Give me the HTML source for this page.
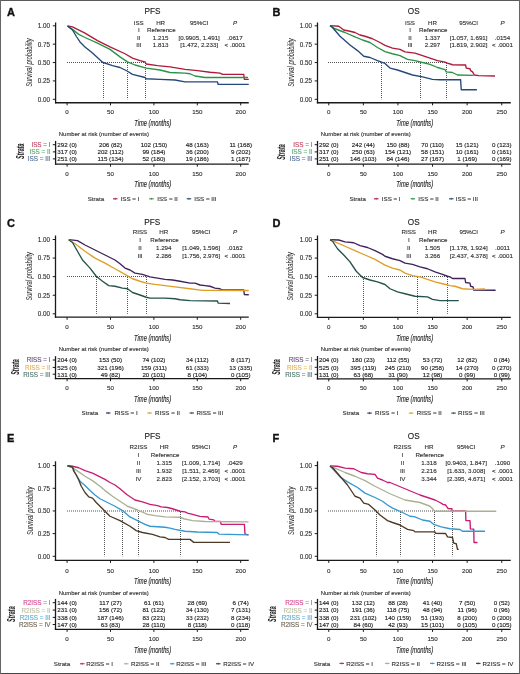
<!DOCTYPE html>
<html><head><meta charset="utf-8"><style>
html,body{margin:0;padding:0;background:#fff;}
body{width:520px;height:674px;overflow:hidden;position:relative;}
svg{position:absolute;left:0;top:0;font-family:"Liberation Sans", sans-serif;will-change:transform;}
</style></head><body>
<svg width="520" height="674" viewBox="0 0 520 674">
<rect x="0" y="0" width="520" height="674" fill="#fff"/>
<text x="7.00" y="15.70" font-size="11" font-weight="bold" fill="#111" stroke="#111" stroke-width="0.35">A</text>
<text x="152.40" y="13.72" font-size="8.2" text-anchor="middle" fill="#222" stroke="#222" stroke-width="0.14" font-weight="normal" font-style="normal" >PFS</text>
<text x="138.75" y="24.56" font-size="6.2" text-anchor="middle" fill="#333" stroke="#333" stroke-width="0.14" font-weight="normal" font-style="normal" >ISS</text>
<text x="160.60" y="24.56" font-size="6.2" text-anchor="middle" fill="#333" stroke="#333" stroke-width="0.14" font-weight="normal" font-style="normal" >HR</text>
<text x="199.20" y="24.56" font-size="6.2" text-anchor="middle" fill="#333" stroke="#333" stroke-width="0.14" font-weight="normal" font-style="normal" >95%CI</text>
<text x="235.00" y="24.56" font-size="6.2" text-anchor="middle" fill="#333" stroke="#333" stroke-width="0.14" font-weight="normal" font-style="italic" >P</text>
<text x="138.75" y="32.16" font-size="6.2" text-anchor="middle" fill="#333" stroke="#333" stroke-width="0.14" font-weight="normal" font-style="normal" >I</text>
<text x="147.10" y="32.16" font-size="6.2" text-anchor="start" fill="#333" stroke="#333" stroke-width="0.14" font-weight="normal" font-style="normal" >Reference</text>
<text x="138.75" y="39.76" font-size="6.2" text-anchor="middle" fill="#333" stroke="#333" stroke-width="0.14" font-weight="normal" font-style="normal" >II</text>
<text x="160.60" y="39.76" font-size="6.2" text-anchor="middle" fill="#333" stroke="#333" stroke-width="0.14" font-weight="normal" font-style="normal" >1.215</text>
<text x="199.20" y="39.76" font-size="6.2" text-anchor="middle" fill="#333" stroke="#333" stroke-width="0.14" font-weight="normal" font-style="normal" >[0.9905, 1.491]</text>
<text x="235.00" y="39.76" font-size="6.2" text-anchor="middle" fill="#333" stroke="#333" stroke-width="0.14" font-weight="normal" font-style="normal" >.0617</text>
<text x="138.75" y="47.36" font-size="6.2" text-anchor="middle" fill="#333" stroke="#333" stroke-width="0.14" font-weight="normal" font-style="normal" >III</text>
<text x="160.60" y="47.36" font-size="6.2" text-anchor="middle" fill="#333" stroke="#333" stroke-width="0.14" font-weight="normal" font-style="normal" >1.813</text>
<text x="199.20" y="47.36" font-size="6.2" text-anchor="middle" fill="#333" stroke="#333" stroke-width="0.14" font-weight="normal" font-style="normal" >[1.472, 2.233]</text>
<text x="235.00" y="47.36" font-size="6.2" text-anchor="middle" fill="#333" stroke="#333" stroke-width="0.14" font-weight="normal" font-style="normal" >&lt; .0001</text>
<line x1="55.60" y1="22.50" x2="55.60" y2="103.35" stroke="#1a1a1a" stroke-width="1.3" />
<line x1="54.95" y1="102.75" x2="248.75" y2="102.75" stroke="#1a1a1a" stroke-width="1.3" />
<line x1="52.80" y1="99.30" x2="55.60" y2="99.30" stroke="#1a1a1a" stroke-width="1.0" />
<text x="50.00" y="101.69" font-size="6.3" text-anchor="end" fill="#333" stroke="#333" stroke-width="0.14" font-weight="normal" font-style="normal" >0.00</text>
<line x1="52.80" y1="80.92" x2="55.60" y2="80.92" stroke="#1a1a1a" stroke-width="1.0" />
<text x="50.00" y="83.32" font-size="6.3" text-anchor="end" fill="#333" stroke="#333" stroke-width="0.14" font-weight="normal" font-style="normal" >0.25</text>
<line x1="52.80" y1="62.55" x2="55.60" y2="62.55" stroke="#1a1a1a" stroke-width="1.0" />
<text x="50.00" y="64.94" font-size="6.3" text-anchor="end" fill="#333" stroke="#333" stroke-width="0.14" font-weight="normal" font-style="normal" >0.50</text>
<line x1="52.80" y1="44.17" x2="55.60" y2="44.17" stroke="#1a1a1a" stroke-width="1.0" />
<text x="50.00" y="46.57" font-size="6.3" text-anchor="end" fill="#333" stroke="#333" stroke-width="0.14" font-weight="normal" font-style="normal" >0.75</text>
<line x1="52.80" y1="25.80" x2="55.60" y2="25.80" stroke="#1a1a1a" stroke-width="1.0" />
<text x="50.00" y="28.19" font-size="6.3" text-anchor="end" fill="#333" stroke="#333" stroke-width="0.14" font-weight="normal" font-style="normal" >1.00</text>
<line x1="67.10" y1="102.75" x2="67.10" y2="105.35" stroke="#1a1a1a" stroke-width="1.0" />
<text x="67.10" y="114.46" font-size="6.2" text-anchor="middle" fill="#333" stroke="#333" stroke-width="0.14" font-weight="normal" font-style="normal" >0</text>
<line x1="110.50" y1="102.75" x2="110.50" y2="105.35" stroke="#1a1a1a" stroke-width="1.0" />
<text x="110.50" y="114.46" font-size="6.2" text-anchor="middle" fill="#333" stroke="#333" stroke-width="0.14" font-weight="normal" font-style="normal" >50</text>
<line x1="153.90" y1="102.75" x2="153.90" y2="105.35" stroke="#1a1a1a" stroke-width="1.0" />
<text x="153.90" y="114.46" font-size="6.2" text-anchor="middle" fill="#333" stroke="#333" stroke-width="0.14" font-weight="normal" font-style="normal" >100</text>
<line x1="197.30" y1="102.75" x2="197.30" y2="105.35" stroke="#1a1a1a" stroke-width="1.0" />
<text x="197.30" y="114.46" font-size="6.2" text-anchor="middle" fill="#333" stroke="#333" stroke-width="0.14" font-weight="normal" font-style="normal" >150</text>
<line x1="240.70" y1="102.75" x2="240.70" y2="105.35" stroke="#1a1a1a" stroke-width="1.0" />
<text x="240.70" y="114.46" font-size="6.2" text-anchor="middle" fill="#333" stroke="#333" stroke-width="0.14" font-weight="normal" font-style="normal" >200</text>
<text x="28.8" y="62.5" transform="rotate(-90 28.8 62.5)" font-size="8.6" font-style="italic" text-anchor="middle" fill="#222" textLength="48.5" lengthAdjust="spacingAndGlyphs" dominant-baseline="central">Survival probability</text>
<text x="152.68" y="125.95" font-size="8.4" text-anchor="middle" fill="#222" stroke="#222" stroke-width="0.14" font-weight="normal" font-style="italic" textLength="37" lengthAdjust="spacingAndGlyphs">Time (months)</text>
<line x1="67.00" y1="62.50" x2="145.60" y2="62.50" stroke="#4a4a4a" stroke-width="0.95" stroke-dasharray="1,1"/>
<line x1="103.50" y1="63.00" x2="103.50" y2="99.30" stroke="#4a4a4a" stroke-width="0.95" stroke-dasharray="1,1"/>
<line x1="127.50" y1="63.00" x2="127.50" y2="99.30" stroke="#4a4a4a" stroke-width="0.95" stroke-dasharray="1,1"/>
<line x1="145.50" y1="63.00" x2="145.50" y2="99.30" stroke="#4a4a4a" stroke-width="0.95" stroke-dasharray="1,1"/>
<polyline points="67.50,26.00 72.50,26.90 85.00,33.10 97.50,40.60 110.00,46.90 125.00,53.75 132.50,58.10 140.00,60.60 145.00,61.90 146.25,64.00 157.50,65.60 170.00,66.90 185.00,69.40 197.50,70.60 210.00,72.25 220.00,73.10 222.50,74.40 243.75,74.40 244.40,79.40 248.75,79.40" fill="none" stroke="#ae1a3c" stroke-width="1.35" stroke-linejoin="round" />
<polyline points="67.50,26.00 72.50,29.40 78.75,34.40 85.00,37.50 97.50,43.10 110.00,49.40 120.00,56.90 127.50,61.90 135.00,65.00 146.25,68.10 160.00,70.00 170.00,72.50 185.00,73.10 190.00,73.75 195.00,76.00 205.00,77.50 248.00,77.50" fill="none" stroke="#2a9446" stroke-width="1.35" stroke-linejoin="round" />
<polyline points="67.50,26.00 72.50,30.00 76.25,36.25 80.00,41.90 85.00,46.90 92.50,53.10 102.50,62.25 112.50,65.60 120.00,67.50 127.50,71.25 132.50,74.40 145.00,77.50 146.25,78.75 160.00,79.40 175.00,80.00 185.00,81.90 217.50,81.90 218.10,84.40 248.75,84.40" fill="none" stroke="#264878" stroke-width="1.35" stroke-linejoin="round" />
<text x="58.80" y="136.36" font-size="5.95" text-anchor="start" fill="#333" stroke="#333" stroke-width="0.14" font-weight="normal" font-style="normal" >Number at risk (number of events)</text>
<line x1="55.60" y1="140.90" x2="55.60" y2="164.70" stroke="#1a1a1a" stroke-width="1.3" />
<line x1="54.95" y1="164.10" x2="248.75" y2="164.10" stroke="#1a1a1a" stroke-width="1.3" />
<line x1="52.80" y1="144.70" x2="55.60" y2="144.70" stroke="#1a1a1a" stroke-width="1.0" />
<text x="50.60" y="147.11" font-size="6.35" text-anchor="end" fill="#bf4c66" stroke="#bf4c66" stroke-width="0.14" font-weight="normal" font-style="normal" >ISS = I</text>
<text x="67.10" y="147.06" font-size="6.2" text-anchor="middle" fill="#222" stroke="#222" stroke-width="0.14" font-weight="normal" font-style="normal" >292 (0)</text>
<text x="110.50" y="147.06" font-size="6.2" text-anchor="middle" fill="#222" stroke="#222" stroke-width="0.14" font-weight="normal" font-style="normal" >206 (82)</text>
<text x="153.90" y="147.06" font-size="6.2" text-anchor="middle" fill="#222" stroke="#222" stroke-width="0.14" font-weight="normal" font-style="normal" >102 (150)</text>
<text x="197.30" y="147.06" font-size="6.2" text-anchor="middle" fill="#222" stroke="#222" stroke-width="0.14" font-weight="normal" font-style="normal" >48 (163)</text>
<text x="240.70" y="147.06" font-size="6.2" text-anchor="middle" fill="#222" stroke="#222" stroke-width="0.14" font-weight="normal" font-style="normal" >11 (168)</text>
<line x1="52.80" y1="151.90" x2="55.60" y2="151.90" stroke="#1a1a1a" stroke-width="1.0" />
<text x="50.60" y="154.31" font-size="6.35" text-anchor="end" fill="#58ab6e" stroke="#58ab6e" stroke-width="0.14" font-weight="normal" font-style="normal" >ISS = II</text>
<text x="67.10" y="154.26" font-size="6.2" text-anchor="middle" fill="#222" stroke="#222" stroke-width="0.14" font-weight="normal" font-style="normal" >317 (0)</text>
<text x="110.50" y="154.26" font-size="6.2" text-anchor="middle" fill="#222" stroke="#222" stroke-width="0.14" font-weight="normal" font-style="normal" >202 (112)</text>
<text x="153.90" y="154.26" font-size="6.2" text-anchor="middle" fill="#222" stroke="#222" stroke-width="0.14" font-weight="normal" font-style="normal" >99 (184)</text>
<text x="197.30" y="154.26" font-size="6.2" text-anchor="middle" fill="#222" stroke="#222" stroke-width="0.14" font-weight="normal" font-style="normal" >36 (200)</text>
<text x="240.70" y="154.26" font-size="6.2" text-anchor="middle" fill="#222" stroke="#222" stroke-width="0.14" font-weight="normal" font-style="normal" >9 (202)</text>
<line x1="52.80" y1="158.90" x2="55.60" y2="158.90" stroke="#1a1a1a" stroke-width="1.0" />
<text x="50.60" y="161.31" font-size="6.35" text-anchor="end" fill="#557095" stroke="#557095" stroke-width="0.14" font-weight="normal" font-style="normal" >ISS = III</text>
<text x="67.10" y="161.26" font-size="6.2" text-anchor="middle" fill="#222" stroke="#222" stroke-width="0.14" font-weight="normal" font-style="normal" >251 (0)</text>
<text x="110.50" y="161.26" font-size="6.2" text-anchor="middle" fill="#222" stroke="#222" stroke-width="0.14" font-weight="normal" font-style="normal" >115 (134)</text>
<text x="153.90" y="161.26" font-size="6.2" text-anchor="middle" fill="#222" stroke="#222" stroke-width="0.14" font-weight="normal" font-style="normal" >52 (180)</text>
<text x="197.30" y="161.26" font-size="6.2" text-anchor="middle" fill="#222" stroke="#222" stroke-width="0.14" font-weight="normal" font-style="normal" >19 (186)</text>
<text x="240.70" y="161.26" font-size="6.2" text-anchor="middle" fill="#222" stroke="#222" stroke-width="0.14" font-weight="normal" font-style="normal" >1 (187)</text>
<line x1="67.10" y1="164.10" x2="67.10" y2="166.70" stroke="#1a1a1a" stroke-width="1.0" />
<text x="67.10" y="175.61" font-size="6.2" text-anchor="middle" fill="#333" stroke="#333" stroke-width="0.14" font-weight="normal" font-style="normal" >0</text>
<line x1="110.50" y1="164.10" x2="110.50" y2="166.70" stroke="#1a1a1a" stroke-width="1.0" />
<text x="110.50" y="175.61" font-size="6.2" text-anchor="middle" fill="#333" stroke="#333" stroke-width="0.14" font-weight="normal" font-style="normal" >50</text>
<line x1="153.90" y1="164.10" x2="153.90" y2="166.70" stroke="#1a1a1a" stroke-width="1.0" />
<text x="153.90" y="175.61" font-size="6.2" text-anchor="middle" fill="#333" stroke="#333" stroke-width="0.14" font-weight="normal" font-style="normal" >100</text>
<line x1="197.30" y1="164.10" x2="197.30" y2="166.70" stroke="#1a1a1a" stroke-width="1.0" />
<text x="197.30" y="175.61" font-size="6.2" text-anchor="middle" fill="#333" stroke="#333" stroke-width="0.14" font-weight="normal" font-style="normal" >150</text>
<line x1="240.70" y1="164.10" x2="240.70" y2="166.70" stroke="#1a1a1a" stroke-width="1.0" />
<text x="240.70" y="175.61" font-size="6.2" text-anchor="middle" fill="#333" stroke="#333" stroke-width="0.14" font-weight="normal" font-style="normal" >200</text>
<text x="152.68" y="186.70" font-size="8.4" text-anchor="middle" fill="#222" stroke="#222" stroke-width="0.14" font-weight="normal" font-style="italic" textLength="37" lengthAdjust="spacingAndGlyphs">Time (months)</text>
<text x="20.4" y="151.2" transform="rotate(-90 20.4 151.2)" font-size="10.2" font-style="italic" font-weight="bold" text-anchor="middle" fill="#222" textLength="15.6" lengthAdjust="spacingAndGlyphs" dominant-baseline="central">Strata</text>
<text x="87.70" y="201.16" font-size="6.2" text-anchor="start" fill="#333" stroke="#333" stroke-width="0.14" font-weight="normal" font-style="normal" >Strata</text>
<line x1="113.00" y1="198.80" x2="117.50" y2="198.80" stroke="#ae1a3c" stroke-width="1.1" />
<line x1="115.25" y1="197.70" x2="115.25" y2="199.90" stroke="#ae1a3c" stroke-width="0.6" />
<text x="120.60" y="201.16" font-size="6.2" text-anchor="start" fill="#333" stroke="#333" stroke-width="0.14" font-weight="normal" font-style="normal" >ISS = I</text>
<line x1="149.20" y1="198.80" x2="153.70" y2="198.80" stroke="#2a9446" stroke-width="1.1" />
<line x1="151.45" y1="197.70" x2="151.45" y2="199.90" stroke="#2a9446" stroke-width="0.6" />
<text x="157.20" y="201.16" font-size="6.2" text-anchor="start" fill="#333" stroke="#333" stroke-width="0.14" font-weight="normal" font-style="normal" >ISS = II</text>
<line x1="186.70" y1="198.80" x2="191.20" y2="198.80" stroke="#264878" stroke-width="1.1" />
<line x1="188.95" y1="197.70" x2="188.95" y2="199.90" stroke="#264878" stroke-width="0.6" />
<text x="194.20" y="201.16" font-size="6.2" text-anchor="start" fill="#333" stroke="#333" stroke-width="0.14" font-weight="normal" font-style="normal" >ISS = III</text>
<text x="272.60" y="15.70" font-size="11" font-weight="bold" fill="#111" stroke="#111" stroke-width="0.35">B</text>
<text x="413.75" y="13.72" font-size="8.2" text-anchor="middle" fill="#222" stroke="#222" stroke-width="0.14" font-weight="normal" font-style="normal" >OS</text>
<text x="410.00" y="24.56" font-size="6.2" text-anchor="middle" fill="#333" stroke="#333" stroke-width="0.14" font-weight="normal" font-style="normal" >ISS</text>
<text x="432.50" y="24.56" font-size="6.2" text-anchor="middle" fill="#333" stroke="#333" stroke-width="0.14" font-weight="normal" font-style="normal" >HR</text>
<text x="468.60" y="24.56" font-size="6.2" text-anchor="middle" fill="#333" stroke="#333" stroke-width="0.14" font-weight="normal" font-style="normal" >95%CI</text>
<text x="502.50" y="24.56" font-size="6.2" text-anchor="middle" fill="#333" stroke="#333" stroke-width="0.14" font-weight="normal" font-style="italic" >P</text>
<text x="410.00" y="32.16" font-size="6.2" text-anchor="middle" fill="#333" stroke="#333" stroke-width="0.14" font-weight="normal" font-style="normal" >I</text>
<text x="419.00" y="32.16" font-size="6.2" text-anchor="start" fill="#333" stroke="#333" stroke-width="0.14" font-weight="normal" font-style="normal" >Reference</text>
<text x="410.00" y="39.76" font-size="6.2" text-anchor="middle" fill="#333" stroke="#333" stroke-width="0.14" font-weight="normal" font-style="normal" >II</text>
<text x="432.50" y="39.76" font-size="6.2" text-anchor="middle" fill="#333" stroke="#333" stroke-width="0.14" font-weight="normal" font-style="normal" >1.337</text>
<text x="468.60" y="39.76" font-size="6.2" text-anchor="middle" fill="#333" stroke="#333" stroke-width="0.14" font-weight="normal" font-style="normal" >[1.057, 1.691]</text>
<text x="502.50" y="39.76" font-size="6.2" text-anchor="middle" fill="#333" stroke="#333" stroke-width="0.14" font-weight="normal" font-style="normal" >.0154</text>
<text x="410.00" y="47.36" font-size="6.2" text-anchor="middle" fill="#333" stroke="#333" stroke-width="0.14" font-weight="normal" font-style="normal" >III</text>
<text x="432.50" y="47.36" font-size="6.2" text-anchor="middle" fill="#333" stroke="#333" stroke-width="0.14" font-weight="normal" font-style="normal" >2.297</text>
<text x="468.60" y="47.36" font-size="6.2" text-anchor="middle" fill="#333" stroke="#333" stroke-width="0.14" font-weight="normal" font-style="normal" >[1.819, 2.902]</text>
<text x="502.50" y="47.36" font-size="6.2" text-anchor="middle" fill="#333" stroke="#333" stroke-width="0.14" font-weight="normal" font-style="normal" >&lt; .0001</text>
<line x1="317.50" y1="22.50" x2="317.50" y2="103.35" stroke="#1a1a1a" stroke-width="1.3" />
<line x1="316.85" y1="102.75" x2="510.80" y2="102.75" stroke="#1a1a1a" stroke-width="1.3" />
<line x1="314.70" y1="99.30" x2="317.50" y2="99.30" stroke="#1a1a1a" stroke-width="1.0" />
<text x="311.90" y="101.69" font-size="6.3" text-anchor="end" fill="#333" stroke="#333" stroke-width="0.14" font-weight="normal" font-style="normal" >0.00</text>
<line x1="314.70" y1="80.92" x2="317.50" y2="80.92" stroke="#1a1a1a" stroke-width="1.0" />
<text x="311.90" y="83.32" font-size="6.3" text-anchor="end" fill="#333" stroke="#333" stroke-width="0.14" font-weight="normal" font-style="normal" >0.25</text>
<line x1="314.70" y1="62.55" x2="317.50" y2="62.55" stroke="#1a1a1a" stroke-width="1.0" />
<text x="311.90" y="64.94" font-size="6.3" text-anchor="end" fill="#333" stroke="#333" stroke-width="0.14" font-weight="normal" font-style="normal" >0.50</text>
<line x1="314.70" y1="44.17" x2="317.50" y2="44.17" stroke="#1a1a1a" stroke-width="1.0" />
<text x="311.90" y="46.57" font-size="6.3" text-anchor="end" fill="#333" stroke="#333" stroke-width="0.14" font-weight="normal" font-style="normal" >0.75</text>
<line x1="314.70" y1="25.80" x2="317.50" y2="25.80" stroke="#1a1a1a" stroke-width="1.0" />
<text x="311.90" y="28.19" font-size="6.3" text-anchor="end" fill="#333" stroke="#333" stroke-width="0.14" font-weight="normal" font-style="normal" >1.00</text>
<line x1="328.75" y1="102.75" x2="328.75" y2="105.35" stroke="#1a1a1a" stroke-width="1.0" />
<text x="328.75" y="114.46" font-size="6.2" text-anchor="middle" fill="#333" stroke="#333" stroke-width="0.14" font-weight="normal" font-style="normal" >0</text>
<line x1="363.35" y1="102.75" x2="363.35" y2="105.35" stroke="#1a1a1a" stroke-width="1.0" />
<text x="363.35" y="114.46" font-size="6.2" text-anchor="middle" fill="#333" stroke="#333" stroke-width="0.14" font-weight="normal" font-style="normal" >50</text>
<line x1="397.95" y1="102.75" x2="397.95" y2="105.35" stroke="#1a1a1a" stroke-width="1.0" />
<text x="397.95" y="114.46" font-size="6.2" text-anchor="middle" fill="#333" stroke="#333" stroke-width="0.14" font-weight="normal" font-style="normal" >100</text>
<line x1="432.55" y1="102.75" x2="432.55" y2="105.35" stroke="#1a1a1a" stroke-width="1.0" />
<text x="432.55" y="114.46" font-size="6.2" text-anchor="middle" fill="#333" stroke="#333" stroke-width="0.14" font-weight="normal" font-style="normal" >150</text>
<line x1="467.15" y1="102.75" x2="467.15" y2="105.35" stroke="#1a1a1a" stroke-width="1.0" />
<text x="467.15" y="114.46" font-size="6.2" text-anchor="middle" fill="#333" stroke="#333" stroke-width="0.14" font-weight="normal" font-style="normal" >200</text>
<line x1="501.75" y1="102.75" x2="501.75" y2="105.35" stroke="#1a1a1a" stroke-width="1.0" />
<text x="501.75" y="114.46" font-size="6.2" text-anchor="middle" fill="#333" stroke="#333" stroke-width="0.14" font-weight="normal" font-style="normal" >250</text>
<text x="290.5" y="62.5" transform="rotate(-90 290.5 62.5)" font-size="8.6" font-style="italic" text-anchor="middle" fill="#222" textLength="48.5" lengthAdjust="spacingAndGlyphs" dominant-baseline="central">Survival probability</text>
<text x="414.65" y="125.95" font-size="8.4" text-anchor="middle" fill="#222" stroke="#222" stroke-width="0.14" font-weight="normal" font-style="italic" textLength="37" lengthAdjust="spacingAndGlyphs">Time (months)</text>
<line x1="328.00" y1="62.50" x2="446.40" y2="62.50" stroke="#4a4a4a" stroke-width="0.95" stroke-dasharray="1,1"/>
<line x1="381.50" y1="63.00" x2="381.50" y2="99.30" stroke="#4a4a4a" stroke-width="0.95" stroke-dasharray="1,1"/>
<line x1="420.50" y1="63.00" x2="420.50" y2="99.30" stroke="#4a4a4a" stroke-width="0.95" stroke-dasharray="1,1"/>
<line x1="446.50" y1="63.00" x2="446.50" y2="99.30" stroke="#4a4a4a" stroke-width="0.95" stroke-dasharray="1,1"/>
<polyline points="330.00,25.60 338.75,26.25 343.75,30.00 350.00,31.25 355.00,32.50 360.00,35.00 365.00,36.25 372.50,38.75 380.00,42.50 385.00,45.30 392.50,48.10 400.00,49.40 405.00,51.90 415.00,53.10 422.50,55.60 430.00,58.10 437.50,60.60 445.00,62.20 447.50,63.10 452.50,64.75 465.60,65.00 466.25,68.10 470.00,68.75 470.60,70.60 472.50,71.90 474.40,75.00 478.75,75.60 495.00,76.00" fill="none" stroke="#ae1a3c" stroke-width="1.35" stroke-linejoin="round" />
<polyline points="330.00,25.60 335.00,28.75 345.00,32.50 355.00,36.90 362.50,40.00 370.00,42.50 377.50,47.50 385.00,51.60 392.50,53.75 400.00,55.60 407.50,59.40 415.00,60.60 422.50,62.50 430.00,64.40 437.50,67.50 445.00,69.70 446.25,71.90 452.50,72.50 457.50,75.00 473.75,75.40" fill="none" stroke="#2a9446" stroke-width="1.35" stroke-linejoin="round" />
<polyline points="330.00,25.60 332.50,27.50 340.00,36.25 350.00,45.00 357.50,50.60 363.75,56.25 370.00,57.50 377.50,60.60 385.00,63.40 390.00,68.10 397.50,70.00 405.00,72.50 412.50,75.00 422.50,76.90 432.50,79.40 440.00,79.75 460.60,79.75 461.25,89.75 476.90,89.75" fill="none" stroke="#264878" stroke-width="1.35" stroke-linejoin="round" />
<text x="320.70" y="136.36" font-size="5.95" text-anchor="start" fill="#333" stroke="#333" stroke-width="0.14" font-weight="normal" font-style="normal" >Number at risk (number of events)</text>
<line x1="317.50" y1="140.90" x2="317.50" y2="164.70" stroke="#1a1a1a" stroke-width="1.3" />
<line x1="316.85" y1="164.10" x2="510.80" y2="164.10" stroke="#1a1a1a" stroke-width="1.3" />
<line x1="314.70" y1="144.70" x2="317.50" y2="144.70" stroke="#1a1a1a" stroke-width="1.0" />
<text x="312.50" y="147.11" font-size="6.35" text-anchor="end" fill="#bf4c66" stroke="#bf4c66" stroke-width="0.14" font-weight="normal" font-style="normal" >ISS = I</text>
<text x="328.75" y="147.06" font-size="6.2" text-anchor="middle" fill="#222" stroke="#222" stroke-width="0.14" font-weight="normal" font-style="normal" >292 (0)</text>
<text x="363.35" y="147.06" font-size="6.2" text-anchor="middle" fill="#222" stroke="#222" stroke-width="0.14" font-weight="normal" font-style="normal" >242 (44)</text>
<text x="397.95" y="147.06" font-size="6.2" text-anchor="middle" fill="#222" stroke="#222" stroke-width="0.14" font-weight="normal" font-style="normal" >150 (88)</text>
<text x="432.55" y="147.06" font-size="6.2" text-anchor="middle" fill="#222" stroke="#222" stroke-width="0.14" font-weight="normal" font-style="normal" >70 (110)</text>
<text x="467.15" y="147.06" font-size="6.2" text-anchor="middle" fill="#222" stroke="#222" stroke-width="0.14" font-weight="normal" font-style="normal" >15 (121)</text>
<text x="501.75" y="147.06" font-size="6.2" text-anchor="middle" fill="#222" stroke="#222" stroke-width="0.14" font-weight="normal" font-style="normal" >0 (123)</text>
<line x1="314.70" y1="151.90" x2="317.50" y2="151.90" stroke="#1a1a1a" stroke-width="1.0" />
<text x="312.50" y="154.31" font-size="6.35" text-anchor="end" fill="#58ab6e" stroke="#58ab6e" stroke-width="0.14" font-weight="normal" font-style="normal" >ISS = II</text>
<text x="328.75" y="154.26" font-size="6.2" text-anchor="middle" fill="#222" stroke="#222" stroke-width="0.14" font-weight="normal" font-style="normal" >317 (0)</text>
<text x="363.35" y="154.26" font-size="6.2" text-anchor="middle" fill="#222" stroke="#222" stroke-width="0.14" font-weight="normal" font-style="normal" >250 (63)</text>
<text x="397.95" y="154.26" font-size="6.2" text-anchor="middle" fill="#222" stroke="#222" stroke-width="0.14" font-weight="normal" font-style="normal" >154 (121)</text>
<text x="432.55" y="154.26" font-size="6.2" text-anchor="middle" fill="#222" stroke="#222" stroke-width="0.14" font-weight="normal" font-style="normal" >58 (151)</text>
<text x="467.15" y="154.26" font-size="6.2" text-anchor="middle" fill="#222" stroke="#222" stroke-width="0.14" font-weight="normal" font-style="normal" >10 (161)</text>
<text x="501.75" y="154.26" font-size="6.2" text-anchor="middle" fill="#222" stroke="#222" stroke-width="0.14" font-weight="normal" font-style="normal" >0 (161)</text>
<line x1="314.70" y1="158.90" x2="317.50" y2="158.90" stroke="#1a1a1a" stroke-width="1.0" />
<text x="312.50" y="161.31" font-size="6.35" text-anchor="end" fill="#557095" stroke="#557095" stroke-width="0.14" font-weight="normal" font-style="normal" >ISS = III</text>
<text x="328.75" y="161.26" font-size="6.2" text-anchor="middle" fill="#222" stroke="#222" stroke-width="0.14" font-weight="normal" font-style="normal" >251 (0)</text>
<text x="363.35" y="161.26" font-size="6.2" text-anchor="middle" fill="#222" stroke="#222" stroke-width="0.14" font-weight="normal" font-style="normal" >146 (103)</text>
<text x="397.95" y="161.26" font-size="6.2" text-anchor="middle" fill="#222" stroke="#222" stroke-width="0.14" font-weight="normal" font-style="normal" >84 (146)</text>
<text x="432.55" y="161.26" font-size="6.2" text-anchor="middle" fill="#222" stroke="#222" stroke-width="0.14" font-weight="normal" font-style="normal" >27 (167)</text>
<text x="467.15" y="161.26" font-size="6.2" text-anchor="middle" fill="#222" stroke="#222" stroke-width="0.14" font-weight="normal" font-style="normal" >1 (169)</text>
<text x="501.75" y="161.26" font-size="6.2" text-anchor="middle" fill="#222" stroke="#222" stroke-width="0.14" font-weight="normal" font-style="normal" >0 (169)</text>
<line x1="328.75" y1="164.10" x2="328.75" y2="166.70" stroke="#1a1a1a" stroke-width="1.0" />
<text x="328.75" y="175.61" font-size="6.2" text-anchor="middle" fill="#333" stroke="#333" stroke-width="0.14" font-weight="normal" font-style="normal" >0</text>
<line x1="363.35" y1="164.10" x2="363.35" y2="166.70" stroke="#1a1a1a" stroke-width="1.0" />
<text x="363.35" y="175.61" font-size="6.2" text-anchor="middle" fill="#333" stroke="#333" stroke-width="0.14" font-weight="normal" font-style="normal" >50</text>
<line x1="397.95" y1="164.10" x2="397.95" y2="166.70" stroke="#1a1a1a" stroke-width="1.0" />
<text x="397.95" y="175.61" font-size="6.2" text-anchor="middle" fill="#333" stroke="#333" stroke-width="0.14" font-weight="normal" font-style="normal" >100</text>
<line x1="432.55" y1="164.10" x2="432.55" y2="166.70" stroke="#1a1a1a" stroke-width="1.0" />
<text x="432.55" y="175.61" font-size="6.2" text-anchor="middle" fill="#333" stroke="#333" stroke-width="0.14" font-weight="normal" font-style="normal" >150</text>
<line x1="467.15" y1="164.10" x2="467.15" y2="166.70" stroke="#1a1a1a" stroke-width="1.0" />
<text x="467.15" y="175.61" font-size="6.2" text-anchor="middle" fill="#333" stroke="#333" stroke-width="0.14" font-weight="normal" font-style="normal" >200</text>
<line x1="501.75" y1="164.10" x2="501.75" y2="166.70" stroke="#1a1a1a" stroke-width="1.0" />
<text x="501.75" y="175.61" font-size="6.2" text-anchor="middle" fill="#333" stroke="#333" stroke-width="0.14" font-weight="normal" font-style="normal" >250</text>
<text x="414.65" y="186.70" font-size="8.4" text-anchor="middle" fill="#222" stroke="#222" stroke-width="0.14" font-weight="normal" font-style="italic" textLength="37" lengthAdjust="spacingAndGlyphs">Time (months)</text>
<text x="281.4" y="152.0" transform="rotate(-90 281.4 152.0)" font-size="10.2" font-style="italic" font-weight="bold" text-anchor="middle" fill="#222" textLength="15.6" lengthAdjust="spacingAndGlyphs" dominant-baseline="central">Strata</text>
<text x="349.40" y="201.16" font-size="6.2" text-anchor="start" fill="#333" stroke="#333" stroke-width="0.14" font-weight="normal" font-style="normal" >Strata</text>
<line x1="374.00" y1="198.80" x2="378.50" y2="198.80" stroke="#ae1a3c" stroke-width="1.1" />
<line x1="376.25" y1="197.70" x2="376.25" y2="199.90" stroke="#ae1a3c" stroke-width="0.6" />
<text x="381.80" y="201.16" font-size="6.2" text-anchor="start" fill="#333" stroke="#333" stroke-width="0.14" font-weight="normal" font-style="normal" >ISS = I</text>
<line x1="410.60" y1="198.80" x2="415.10" y2="198.80" stroke="#2a9446" stroke-width="1.1" />
<line x1="412.85" y1="197.70" x2="412.85" y2="199.90" stroke="#2a9446" stroke-width="0.6" />
<text x="418.30" y="201.16" font-size="6.2" text-anchor="start" fill="#333" stroke="#333" stroke-width="0.14" font-weight="normal" font-style="normal" >ISS = II</text>
<line x1="449.00" y1="198.80" x2="453.50" y2="198.80" stroke="#264878" stroke-width="1.1" />
<line x1="451.25" y1="197.70" x2="451.25" y2="199.90" stroke="#264878" stroke-width="0.6" />
<text x="455.80" y="201.16" font-size="6.2" text-anchor="start" fill="#333" stroke="#333" stroke-width="0.14" font-weight="normal" font-style="normal" >ISS = III</text>
<text x="7.00" y="226.70" font-size="11" font-weight="bold" fill="#111" stroke="#111" stroke-width="0.35">C</text>
<text x="152.30" y="225.12" font-size="8.2" text-anchor="middle" fill="#222" stroke="#222" stroke-width="0.14" font-weight="normal" font-style="normal" >PFS</text>
<text x="140.00" y="234.46" font-size="6.2" text-anchor="middle" fill="#333" stroke="#333" stroke-width="0.14" font-weight="normal" font-style="normal" >RISS</text>
<text x="163.75" y="234.46" font-size="6.2" text-anchor="middle" fill="#333" stroke="#333" stroke-width="0.14" font-weight="normal" font-style="normal" >HR</text>
<text x="201.25" y="234.46" font-size="6.2" text-anchor="middle" fill="#333" stroke="#333" stroke-width="0.14" font-weight="normal" font-style="normal" >95%CI</text>
<text x="235.00" y="234.46" font-size="6.2" text-anchor="middle" fill="#333" stroke="#333" stroke-width="0.14" font-weight="normal" font-style="italic" >P</text>
<text x="140.00" y="242.16" font-size="6.2" text-anchor="middle" fill="#333" stroke="#333" stroke-width="0.14" font-weight="normal" font-style="normal" >I</text>
<text x="150.25" y="242.16" font-size="6.2" text-anchor="start" fill="#333" stroke="#333" stroke-width="0.14" font-weight="normal" font-style="normal" >Reference</text>
<text x="140.00" y="249.86" font-size="6.2" text-anchor="middle" fill="#333" stroke="#333" stroke-width="0.14" font-weight="normal" font-style="normal" >II</text>
<text x="163.75" y="249.86" font-size="6.2" text-anchor="middle" fill="#333" stroke="#333" stroke-width="0.14" font-weight="normal" font-style="normal" >1.294</text>
<text x="201.25" y="249.86" font-size="6.2" text-anchor="middle" fill="#333" stroke="#333" stroke-width="0.14" font-weight="normal" font-style="normal" >[1.049, 1.596]</text>
<text x="235.00" y="249.86" font-size="6.2" text-anchor="middle" fill="#333" stroke="#333" stroke-width="0.14" font-weight="normal" font-style="normal" >.0162</text>
<text x="140.00" y="257.56" font-size="6.2" text-anchor="middle" fill="#333" stroke="#333" stroke-width="0.14" font-weight="normal" font-style="normal" >III</text>
<text x="163.75" y="257.56" font-size="6.2" text-anchor="middle" fill="#333" stroke="#333" stroke-width="0.14" font-weight="normal" font-style="normal" >2.286</text>
<text x="201.25" y="257.56" font-size="6.2" text-anchor="middle" fill="#333" stroke="#333" stroke-width="0.14" font-weight="normal" font-style="normal" >[1.756, 2.976]</text>
<text x="235.00" y="257.56" font-size="6.2" text-anchor="middle" fill="#333" stroke="#333" stroke-width="0.14" font-weight="normal" font-style="normal" >&lt; .0001</text>
<line x1="55.50" y1="235.50" x2="55.50" y2="317.80" stroke="#1a1a1a" stroke-width="1.3" />
<line x1="54.85" y1="317.20" x2="248.75" y2="317.20" stroke="#1a1a1a" stroke-width="1.3" />
<line x1="52.70" y1="313.80" x2="55.50" y2="313.80" stroke="#1a1a1a" stroke-width="1.0" />
<text x="49.90" y="316.19" font-size="6.3" text-anchor="end" fill="#333" stroke="#333" stroke-width="0.14" font-weight="normal" font-style="normal" >0.00</text>
<line x1="52.70" y1="295.23" x2="55.50" y2="295.23" stroke="#1a1a1a" stroke-width="1.0" />
<text x="49.90" y="297.62" font-size="6.3" text-anchor="end" fill="#333" stroke="#333" stroke-width="0.14" font-weight="normal" font-style="normal" >0.25</text>
<line x1="52.70" y1="276.65" x2="55.50" y2="276.65" stroke="#1a1a1a" stroke-width="1.0" />
<text x="49.90" y="279.04" font-size="6.3" text-anchor="end" fill="#333" stroke="#333" stroke-width="0.14" font-weight="normal" font-style="normal" >0.50</text>
<line x1="52.70" y1="258.07" x2="55.50" y2="258.07" stroke="#1a1a1a" stroke-width="1.0" />
<text x="49.90" y="260.47" font-size="6.3" text-anchor="end" fill="#333" stroke="#333" stroke-width="0.14" font-weight="normal" font-style="normal" >0.75</text>
<line x1="52.70" y1="239.50" x2="55.50" y2="239.50" stroke="#1a1a1a" stroke-width="1.0" />
<text x="49.90" y="241.89" font-size="6.3" text-anchor="end" fill="#333" stroke="#333" stroke-width="0.14" font-weight="normal" font-style="normal" >1.00</text>
<line x1="67.10" y1="317.20" x2="67.10" y2="319.80" stroke="#1a1a1a" stroke-width="1.0" />
<text x="67.10" y="328.76" font-size="6.2" text-anchor="middle" fill="#333" stroke="#333" stroke-width="0.14" font-weight="normal" font-style="normal" >0</text>
<line x1="110.50" y1="317.20" x2="110.50" y2="319.80" stroke="#1a1a1a" stroke-width="1.0" />
<text x="110.50" y="328.76" font-size="6.2" text-anchor="middle" fill="#333" stroke="#333" stroke-width="0.14" font-weight="normal" font-style="normal" >50</text>
<line x1="153.90" y1="317.20" x2="153.90" y2="319.80" stroke="#1a1a1a" stroke-width="1.0" />
<text x="153.90" y="328.76" font-size="6.2" text-anchor="middle" fill="#333" stroke="#333" stroke-width="0.14" font-weight="normal" font-style="normal" >100</text>
<line x1="197.30" y1="317.20" x2="197.30" y2="319.80" stroke="#1a1a1a" stroke-width="1.0" />
<text x="197.30" y="328.76" font-size="6.2" text-anchor="middle" fill="#333" stroke="#333" stroke-width="0.14" font-weight="normal" font-style="normal" >150</text>
<line x1="240.70" y1="317.20" x2="240.70" y2="319.80" stroke="#1a1a1a" stroke-width="1.0" />
<text x="240.70" y="328.76" font-size="6.2" text-anchor="middle" fill="#333" stroke="#333" stroke-width="0.14" font-weight="normal" font-style="normal" >200</text>
<text x="28.8" y="276.3" transform="rotate(-90 28.8 276.3)" font-size="8.6" font-style="italic" text-anchor="middle" fill="#222" textLength="48.5" lengthAdjust="spacingAndGlyphs" dominant-baseline="central">Survival probability</text>
<text x="152.62" y="340.50" font-size="8.4" text-anchor="middle" fill="#222" stroke="#222" stroke-width="0.14" font-weight="normal" font-style="italic" textLength="37" lengthAdjust="spacingAndGlyphs">Time (months)</text>
<line x1="67.00" y1="276.50" x2="146.25" y2="276.50" stroke="#4a4a4a" stroke-width="0.95" stroke-dasharray="1,1"/>
<line x1="96.50" y1="277.00" x2="96.50" y2="313.80" stroke="#4a4a4a" stroke-width="0.95" stroke-dasharray="1,1"/>
<line x1="127.50" y1="277.00" x2="127.50" y2="313.80" stroke="#4a4a4a" stroke-width="0.95" stroke-dasharray="1,1"/>
<line x1="146.50" y1="277.00" x2="146.50" y2="313.80" stroke="#4a4a4a" stroke-width="0.95" stroke-dasharray="1,1"/>
<polyline points="68.75,239.70 77.50,240.60 85.00,245.00 95.00,250.00 105.00,255.00 115.00,260.00 120.00,263.75 125.00,268.10 130.00,270.00 135.00,273.10 142.50,274.40 150.00,276.90 157.50,278.10 165.00,279.40 172.50,280.00 180.00,281.25 190.00,283.10 195.00,283.10 200.00,285.00 205.00,285.60 210.00,286.25 215.00,288.10 220.00,288.75 221.90,290.00 243.75,290.00 244.40,294.60 248.75,294.75" fill="none" stroke="#40225c" stroke-width="1.35" stroke-linejoin="round" />
<polyline points="68.75,239.70 75.00,243.75 85.00,251.25 95.00,258.10 105.00,263.10 115.00,268.75 125.00,274.40 132.50,278.75 140.00,281.25 146.25,283.10 155.00,284.40 165.00,285.60 175.00,286.90 190.00,288.75 202.50,290.40 248.75,290.50" fill="none" stroke="#df9e26" stroke-width="1.35" stroke-linejoin="round" />
<polyline points="68.75,239.70 72.50,242.50 77.50,251.25 82.50,260.00 90.00,268.10 96.25,276.25 102.50,281.25 108.75,285.60 115.00,286.25 122.50,288.10 127.50,288.75 132.50,292.50 140.00,295.00 146.25,297.25 150.00,298.10 165.00,298.10 175.00,298.75 180.00,299.75 190.00,300.60 217.50,301.00 218.10,303.10 230.00,303.50" fill="none" stroke="#25524a" stroke-width="1.35" stroke-linejoin="round" />
<text x="58.70" y="351.06" font-size="5.95" text-anchor="start" fill="#333" stroke="#333" stroke-width="0.14" font-weight="normal" font-style="normal" >Number at risk (number of events)</text>
<line x1="55.50" y1="356.20" x2="55.50" y2="379.20" stroke="#1a1a1a" stroke-width="1.3" />
<line x1="54.85" y1="378.60" x2="248.75" y2="378.60" stroke="#1a1a1a" stroke-width="1.3" />
<line x1="52.70" y1="360.00" x2="55.50" y2="360.00" stroke="#1a1a1a" stroke-width="1.0" />
<text x="50.50" y="362.41" font-size="6.35" text-anchor="end" fill="#6a527f" stroke="#6a527f" stroke-width="0.14" font-weight="normal" font-style="normal" >RISS = I</text>
<text x="67.10" y="362.36" font-size="6.2" text-anchor="middle" fill="#222" stroke="#222" stroke-width="0.14" font-weight="normal" font-style="normal" >204 (0)</text>
<text x="110.50" y="362.36" font-size="6.2" text-anchor="middle" fill="#222" stroke="#222" stroke-width="0.14" font-weight="normal" font-style="normal" >153 (50)</text>
<text x="153.90" y="362.36" font-size="6.2" text-anchor="middle" fill="#222" stroke="#222" stroke-width="0.14" font-weight="normal" font-style="normal" >74 (102)</text>
<text x="197.30" y="362.36" font-size="6.2" text-anchor="middle" fill="#222" stroke="#222" stroke-width="0.14" font-weight="normal" font-style="normal" >34 (112)</text>
<text x="240.70" y="362.36" font-size="6.2" text-anchor="middle" fill="#222" stroke="#222" stroke-width="0.14" font-weight="normal" font-style="normal" >8 (117)</text>
<line x1="52.70" y1="367.40" x2="55.50" y2="367.40" stroke="#1a1a1a" stroke-width="1.0" />
<text x="50.50" y="369.81" font-size="6.35" text-anchor="end" fill="#e6b355" stroke="#e6b355" stroke-width="0.14" font-weight="normal" font-style="normal" >RISS = II</text>
<text x="67.10" y="369.76" font-size="6.2" text-anchor="middle" fill="#222" stroke="#222" stroke-width="0.14" font-weight="normal" font-style="normal" >525 (0)</text>
<text x="110.50" y="369.76" font-size="6.2" text-anchor="middle" fill="#222" stroke="#222" stroke-width="0.14" font-weight="normal" font-style="normal" >321 (196)</text>
<text x="153.90" y="369.76" font-size="6.2" text-anchor="middle" fill="#222" stroke="#222" stroke-width="0.14" font-weight="normal" font-style="normal" >159 (311)</text>
<text x="197.30" y="369.76" font-size="6.2" text-anchor="middle" fill="#222" stroke="#222" stroke-width="0.14" font-weight="normal" font-style="normal" >61 (333)</text>
<text x="240.70" y="369.76" font-size="6.2" text-anchor="middle" fill="#222" stroke="#222" stroke-width="0.14" font-weight="normal" font-style="normal" >13 (335)</text>
<line x1="52.70" y1="374.20" x2="55.50" y2="374.20" stroke="#1a1a1a" stroke-width="1.0" />
<text x="50.50" y="376.61" font-size="6.35" text-anchor="end" fill="#547871" stroke="#547871" stroke-width="0.14" font-weight="normal" font-style="normal" >RISS = III</text>
<text x="67.10" y="376.56" font-size="6.2" text-anchor="middle" fill="#222" stroke="#222" stroke-width="0.14" font-weight="normal" font-style="normal" >131 (0)</text>
<text x="110.50" y="376.56" font-size="6.2" text-anchor="middle" fill="#222" stroke="#222" stroke-width="0.14" font-weight="normal" font-style="normal" >49 (82)</text>
<text x="153.90" y="376.56" font-size="6.2" text-anchor="middle" fill="#222" stroke="#222" stroke-width="0.14" font-weight="normal" font-style="normal" >20 (101)</text>
<text x="197.30" y="376.56" font-size="6.2" text-anchor="middle" fill="#222" stroke="#222" stroke-width="0.14" font-weight="normal" font-style="normal" >8 (104)</text>
<text x="240.70" y="376.56" font-size="6.2" text-anchor="middle" fill="#222" stroke="#222" stroke-width="0.14" font-weight="normal" font-style="normal" >0 (105)</text>
<line x1="67.10" y1="378.60" x2="67.10" y2="381.20" stroke="#1a1a1a" stroke-width="1.0" />
<text x="67.10" y="390.36" font-size="6.2" text-anchor="middle" fill="#333" stroke="#333" stroke-width="0.14" font-weight="normal" font-style="normal" >0</text>
<line x1="110.50" y1="378.60" x2="110.50" y2="381.20" stroke="#1a1a1a" stroke-width="1.0" />
<text x="110.50" y="390.36" font-size="6.2" text-anchor="middle" fill="#333" stroke="#333" stroke-width="0.14" font-weight="normal" font-style="normal" >50</text>
<line x1="153.90" y1="378.60" x2="153.90" y2="381.20" stroke="#1a1a1a" stroke-width="1.0" />
<text x="153.90" y="390.36" font-size="6.2" text-anchor="middle" fill="#333" stroke="#333" stroke-width="0.14" font-weight="normal" font-style="normal" >100</text>
<line x1="197.30" y1="378.60" x2="197.30" y2="381.20" stroke="#1a1a1a" stroke-width="1.0" />
<text x="197.30" y="390.36" font-size="6.2" text-anchor="middle" fill="#333" stroke="#333" stroke-width="0.14" font-weight="normal" font-style="normal" >150</text>
<line x1="240.70" y1="378.60" x2="240.70" y2="381.20" stroke="#1a1a1a" stroke-width="1.0" />
<text x="240.70" y="390.36" font-size="6.2" text-anchor="middle" fill="#333" stroke="#333" stroke-width="0.14" font-weight="normal" font-style="normal" >200</text>
<text x="152.62" y="401.80" font-size="8.4" text-anchor="middle" fill="#222" stroke="#222" stroke-width="0.14" font-weight="normal" font-style="italic" textLength="37" lengthAdjust="spacingAndGlyphs">Time (months)</text>
<text x="15.6" y="367.0" transform="rotate(-90 15.6 367.0)" font-size="10.2" font-style="italic" font-weight="bold" text-anchor="middle" fill="#222" textLength="15.6" lengthAdjust="spacingAndGlyphs" dominant-baseline="central">Strata</text>
<text x="81.60" y="415.36" font-size="6.2" text-anchor="start" fill="#333" stroke="#333" stroke-width="0.14" font-weight="normal" font-style="normal" >Strata</text>
<line x1="106.00" y1="413.00" x2="110.50" y2="413.00" stroke="#40225c" stroke-width="1.1" />
<line x1="108.25" y1="411.90" x2="108.25" y2="414.10" stroke="#40225c" stroke-width="0.6" />
<text x="114.40" y="415.36" font-size="6.2" text-anchor="start" fill="#333" stroke="#333" stroke-width="0.14" font-weight="normal" font-style="normal" >RISS = I</text>
<line x1="147.30" y1="413.00" x2="151.80" y2="413.00" stroke="#df9e26" stroke-width="1.1" />
<line x1="149.55" y1="411.90" x2="149.55" y2="414.10" stroke="#df9e26" stroke-width="0.6" />
<text x="155.00" y="415.36" font-size="6.2" text-anchor="start" fill="#333" stroke="#333" stroke-width="0.14" font-weight="normal" font-style="normal" >RISS = II</text>
<line x1="189.50" y1="413.00" x2="194.00" y2="413.00" stroke="#25524a" stroke-width="1.1" />
<line x1="191.75" y1="411.90" x2="191.75" y2="414.10" stroke="#25524a" stroke-width="0.6" />
<text x="196.50" y="415.36" font-size="6.2" text-anchor="start" fill="#333" stroke="#333" stroke-width="0.14" font-weight="normal" font-style="normal" >RISS = III</text>
<text x="272.60" y="226.70" font-size="11" font-weight="bold" fill="#111" stroke="#111" stroke-width="0.35">D</text>
<text x="413.75" y="225.12" font-size="8.2" text-anchor="middle" fill="#222" stroke="#222" stroke-width="0.14" font-weight="normal" font-style="normal" >OS</text>
<text x="408.75" y="234.46" font-size="6.2" text-anchor="middle" fill="#333" stroke="#333" stroke-width="0.14" font-weight="normal" font-style="normal" >RISS</text>
<text x="432.50" y="234.46" font-size="6.2" text-anchor="middle" fill="#333" stroke="#333" stroke-width="0.14" font-weight="normal" font-style="normal" >HR</text>
<text x="468.75" y="234.46" font-size="6.2" text-anchor="middle" fill="#333" stroke="#333" stroke-width="0.14" font-weight="normal" font-style="normal" >95%CI</text>
<text x="502.50" y="234.46" font-size="6.2" text-anchor="middle" fill="#333" stroke="#333" stroke-width="0.14" font-weight="normal" font-style="italic" >P</text>
<text x="408.75" y="242.16" font-size="6.2" text-anchor="middle" fill="#333" stroke="#333" stroke-width="0.14" font-weight="normal" font-style="normal" >I</text>
<text x="419.00" y="242.16" font-size="6.2" text-anchor="start" fill="#333" stroke="#333" stroke-width="0.14" font-weight="normal" font-style="normal" >Reference</text>
<text x="408.75" y="249.86" font-size="6.2" text-anchor="middle" fill="#333" stroke="#333" stroke-width="0.14" font-weight="normal" font-style="normal" >II</text>
<text x="432.50" y="249.86" font-size="6.2" text-anchor="middle" fill="#333" stroke="#333" stroke-width="0.14" font-weight="normal" font-style="normal" >1.505</text>
<text x="468.75" y="249.86" font-size="6.2" text-anchor="middle" fill="#333" stroke="#333" stroke-width="0.14" font-weight="normal" font-style="normal" >[1.178, 1.924]</text>
<text x="502.50" y="249.86" font-size="6.2" text-anchor="middle" fill="#333" stroke="#333" stroke-width="0.14" font-weight="normal" font-style="normal" >.0011</text>
<text x="408.75" y="257.56" font-size="6.2" text-anchor="middle" fill="#333" stroke="#333" stroke-width="0.14" font-weight="normal" font-style="normal" >III</text>
<text x="432.50" y="257.56" font-size="6.2" text-anchor="middle" fill="#333" stroke="#333" stroke-width="0.14" font-weight="normal" font-style="normal" >3.266</text>
<text x="468.75" y="257.56" font-size="6.2" text-anchor="middle" fill="#333" stroke="#333" stroke-width="0.14" font-weight="normal" font-style="normal" >[2.437, 4.378]</text>
<text x="502.50" y="257.56" font-size="6.2" text-anchor="middle" fill="#333" stroke="#333" stroke-width="0.14" font-weight="normal" font-style="normal" >&lt; .0001</text>
<line x1="317.50" y1="235.50" x2="317.50" y2="318.00" stroke="#1a1a1a" stroke-width="1.3" />
<line x1="316.85" y1="317.40" x2="510.80" y2="317.40" stroke="#1a1a1a" stroke-width="1.3" />
<line x1="314.70" y1="313.80" x2="317.50" y2="313.80" stroke="#1a1a1a" stroke-width="1.0" />
<text x="311.90" y="316.19" font-size="6.3" text-anchor="end" fill="#333" stroke="#333" stroke-width="0.14" font-weight="normal" font-style="normal" >0.00</text>
<line x1="314.70" y1="295.23" x2="317.50" y2="295.23" stroke="#1a1a1a" stroke-width="1.0" />
<text x="311.90" y="297.62" font-size="6.3" text-anchor="end" fill="#333" stroke="#333" stroke-width="0.14" font-weight="normal" font-style="normal" >0.25</text>
<line x1="314.70" y1="276.65" x2="317.50" y2="276.65" stroke="#1a1a1a" stroke-width="1.0" />
<text x="311.90" y="279.04" font-size="6.3" text-anchor="end" fill="#333" stroke="#333" stroke-width="0.14" font-weight="normal" font-style="normal" >0.50</text>
<line x1="314.70" y1="258.07" x2="317.50" y2="258.07" stroke="#1a1a1a" stroke-width="1.0" />
<text x="311.90" y="260.47" font-size="6.3" text-anchor="end" fill="#333" stroke="#333" stroke-width="0.14" font-weight="normal" font-style="normal" >0.75</text>
<line x1="314.70" y1="239.50" x2="317.50" y2="239.50" stroke="#1a1a1a" stroke-width="1.0" />
<text x="311.90" y="241.89" font-size="6.3" text-anchor="end" fill="#333" stroke="#333" stroke-width="0.14" font-weight="normal" font-style="normal" >1.00</text>
<line x1="328.75" y1="317.40" x2="328.75" y2="320.00" stroke="#1a1a1a" stroke-width="1.0" />
<text x="328.75" y="328.76" font-size="6.2" text-anchor="middle" fill="#333" stroke="#333" stroke-width="0.14" font-weight="normal" font-style="normal" >0</text>
<line x1="363.35" y1="317.40" x2="363.35" y2="320.00" stroke="#1a1a1a" stroke-width="1.0" />
<text x="363.35" y="328.76" font-size="6.2" text-anchor="middle" fill="#333" stroke="#333" stroke-width="0.14" font-weight="normal" font-style="normal" >50</text>
<line x1="397.95" y1="317.40" x2="397.95" y2="320.00" stroke="#1a1a1a" stroke-width="1.0" />
<text x="397.95" y="328.76" font-size="6.2" text-anchor="middle" fill="#333" stroke="#333" stroke-width="0.14" font-weight="normal" font-style="normal" >100</text>
<line x1="432.55" y1="317.40" x2="432.55" y2="320.00" stroke="#1a1a1a" stroke-width="1.0" />
<text x="432.55" y="328.76" font-size="6.2" text-anchor="middle" fill="#333" stroke="#333" stroke-width="0.14" font-weight="normal" font-style="normal" >150</text>
<line x1="467.15" y1="317.40" x2="467.15" y2="320.00" stroke="#1a1a1a" stroke-width="1.0" />
<text x="467.15" y="328.76" font-size="6.2" text-anchor="middle" fill="#333" stroke="#333" stroke-width="0.14" font-weight="normal" font-style="normal" >200</text>
<line x1="501.75" y1="317.40" x2="501.75" y2="320.00" stroke="#1a1a1a" stroke-width="1.0" />
<text x="501.75" y="328.76" font-size="6.2" text-anchor="middle" fill="#333" stroke="#333" stroke-width="0.14" font-weight="normal" font-style="normal" >250</text>
<text x="290.5" y="276.3" transform="rotate(-90 290.5 276.3)" font-size="8.6" font-style="italic" text-anchor="middle" fill="#222" textLength="48.5" lengthAdjust="spacingAndGlyphs" dominant-baseline="central">Survival probability</text>
<text x="414.65" y="340.70" font-size="8.4" text-anchor="middle" fill="#222" stroke="#222" stroke-width="0.14" font-weight="normal" font-style="italic" textLength="37" lengthAdjust="spacingAndGlyphs">Time (months)</text>
<line x1="328.00" y1="276.50" x2="447.40" y2="276.50" stroke="#4a4a4a" stroke-width="0.95" stroke-dasharray="1,1"/>
<line x1="363.50" y1="277.00" x2="363.50" y2="313.80" stroke="#4a4a4a" stroke-width="0.95" stroke-dasharray="1,1"/>
<line x1="417.50" y1="277.00" x2="417.50" y2="313.80" stroke="#4a4a4a" stroke-width="0.95" stroke-dasharray="1,1"/>
<line x1="447.50" y1="277.00" x2="447.50" y2="313.80" stroke="#4a4a4a" stroke-width="0.95" stroke-dasharray="1,1"/>
<polyline points="330.00,239.75 338.75,240.00 345.00,241.90 353.75,242.75 360.00,245.60 367.50,247.50 375.00,250.60 382.50,254.40 385.00,256.25 392.50,258.75 400.00,260.60 405.00,263.10 412.50,264.40 420.00,266.90 427.50,268.75 435.00,271.90 442.50,274.40 447.50,276.25 450.00,276.90 452.50,278.50 465.00,278.50 465.60,282.50 470.00,283.10 470.60,286.25 473.10,286.90 473.75,290.00 495.60,290.25" fill="none" stroke="#40225c" stroke-width="1.35" stroke-linejoin="round" />
<polyline points="330.00,239.75 335.00,241.90 345.00,246.25 355.00,250.60 365.00,255.00 375.00,259.40 385.00,265.20 392.50,268.10 400.00,270.00 405.00,273.10 412.50,275.60 420.00,276.90 427.50,279.40 435.00,281.90 442.50,283.75 450.00,285.60 455.00,286.25 462.50,288.75 472.50,289.40 485.00,289.00" fill="none" stroke="#df9e26" stroke-width="1.35" stroke-linejoin="round" />
<polyline points="330.00,239.75 332.50,241.25 337.50,248.75 343.75,255.00 350.00,261.90 356.25,271.25 362.50,277.50 370.00,280.00 377.50,281.90 385.00,284.50 390.00,288.75 397.50,291.90 405.00,293.75 415.00,296.25 427.50,296.90 432.50,299.40 440.00,300.60 458.75,300.60" fill="none" stroke="#25524a" stroke-width="1.35" stroke-linejoin="round" />
<text x="320.70" y="351.06" font-size="5.95" text-anchor="start" fill="#333" stroke="#333" stroke-width="0.14" font-weight="normal" font-style="normal" >Number at risk (number of events)</text>
<line x1="317.50" y1="356.00" x2="317.50" y2="379.40" stroke="#1a1a1a" stroke-width="1.3" />
<line x1="316.85" y1="378.80" x2="510.80" y2="378.80" stroke="#1a1a1a" stroke-width="1.3" />
<line x1="314.70" y1="359.80" x2="317.50" y2="359.80" stroke="#1a1a1a" stroke-width="1.0" />
<text x="312.50" y="362.21" font-size="6.35" text-anchor="end" fill="#6a527f" stroke="#6a527f" stroke-width="0.14" font-weight="normal" font-style="normal" >RISS = I</text>
<text x="328.75" y="362.16" font-size="6.2" text-anchor="middle" fill="#222" stroke="#222" stroke-width="0.14" font-weight="normal" font-style="normal" >204 (0)</text>
<text x="363.35" y="362.16" font-size="6.2" text-anchor="middle" fill="#222" stroke="#222" stroke-width="0.14" font-weight="normal" font-style="normal" >180 (23)</text>
<text x="397.95" y="362.16" font-size="6.2" text-anchor="middle" fill="#222" stroke="#222" stroke-width="0.14" font-weight="normal" font-style="normal" >112 (55)</text>
<text x="432.55" y="362.16" font-size="6.2" text-anchor="middle" fill="#222" stroke="#222" stroke-width="0.14" font-weight="normal" font-style="normal" >53 (72)</text>
<text x="467.15" y="362.16" font-size="6.2" text-anchor="middle" fill="#222" stroke="#222" stroke-width="0.14" font-weight="normal" font-style="normal" >12 (82)</text>
<text x="501.75" y="362.16" font-size="6.2" text-anchor="middle" fill="#222" stroke="#222" stroke-width="0.14" font-weight="normal" font-style="normal" >0 (84)</text>
<line x1="314.70" y1="367.30" x2="317.50" y2="367.30" stroke="#1a1a1a" stroke-width="1.0" />
<text x="312.50" y="369.71" font-size="6.35" text-anchor="end" fill="#e6b355" stroke="#e6b355" stroke-width="0.14" font-weight="normal" font-style="normal" >RISS = II</text>
<text x="328.75" y="369.66" font-size="6.2" text-anchor="middle" fill="#222" stroke="#222" stroke-width="0.14" font-weight="normal" font-style="normal" >525 (0)</text>
<text x="363.35" y="369.66" font-size="6.2" text-anchor="middle" fill="#222" stroke="#222" stroke-width="0.14" font-weight="normal" font-style="normal" >395 (119)</text>
<text x="397.95" y="369.66" font-size="6.2" text-anchor="middle" fill="#222" stroke="#222" stroke-width="0.14" font-weight="normal" font-style="normal" >245 (210)</text>
<text x="432.55" y="369.66" font-size="6.2" text-anchor="middle" fill="#222" stroke="#222" stroke-width="0.14" font-weight="normal" font-style="normal" >90 (258)</text>
<text x="467.15" y="369.66" font-size="6.2" text-anchor="middle" fill="#222" stroke="#222" stroke-width="0.14" font-weight="normal" font-style="normal" >14 (270)</text>
<text x="501.75" y="369.66" font-size="6.2" text-anchor="middle" fill="#222" stroke="#222" stroke-width="0.14" font-weight="normal" font-style="normal" >0 (270)</text>
<line x1="314.70" y1="374.30" x2="317.50" y2="374.30" stroke="#1a1a1a" stroke-width="1.0" />
<text x="312.50" y="376.71" font-size="6.35" text-anchor="end" fill="#547871" stroke="#547871" stroke-width="0.14" font-weight="normal" font-style="normal" >RISS = III</text>
<text x="328.75" y="376.66" font-size="6.2" text-anchor="middle" fill="#222" stroke="#222" stroke-width="0.14" font-weight="normal" font-style="normal" >131 (0)</text>
<text x="363.35" y="376.66" font-size="6.2" text-anchor="middle" fill="#222" stroke="#222" stroke-width="0.14" font-weight="normal" font-style="normal" >63 (68)</text>
<text x="397.95" y="376.66" font-size="6.2" text-anchor="middle" fill="#222" stroke="#222" stroke-width="0.14" font-weight="normal" font-style="normal" >31 (90)</text>
<text x="432.55" y="376.66" font-size="6.2" text-anchor="middle" fill="#222" stroke="#222" stroke-width="0.14" font-weight="normal" font-style="normal" >12 (98)</text>
<text x="467.15" y="376.66" font-size="6.2" text-anchor="middle" fill="#222" stroke="#222" stroke-width="0.14" font-weight="normal" font-style="normal" >0 (99)</text>
<text x="501.75" y="376.66" font-size="6.2" text-anchor="middle" fill="#222" stroke="#222" stroke-width="0.14" font-weight="normal" font-style="normal" >0 (99)</text>
<line x1="328.75" y1="378.80" x2="328.75" y2="381.40" stroke="#1a1a1a" stroke-width="1.0" />
<text x="328.75" y="390.36" font-size="6.2" text-anchor="middle" fill="#333" stroke="#333" stroke-width="0.14" font-weight="normal" font-style="normal" >0</text>
<line x1="363.35" y1="378.80" x2="363.35" y2="381.40" stroke="#1a1a1a" stroke-width="1.0" />
<text x="363.35" y="390.36" font-size="6.2" text-anchor="middle" fill="#333" stroke="#333" stroke-width="0.14" font-weight="normal" font-style="normal" >50</text>
<line x1="397.95" y1="378.80" x2="397.95" y2="381.40" stroke="#1a1a1a" stroke-width="1.0" />
<text x="397.95" y="390.36" font-size="6.2" text-anchor="middle" fill="#333" stroke="#333" stroke-width="0.14" font-weight="normal" font-style="normal" >100</text>
<line x1="432.55" y1="378.80" x2="432.55" y2="381.40" stroke="#1a1a1a" stroke-width="1.0" />
<text x="432.55" y="390.36" font-size="6.2" text-anchor="middle" fill="#333" stroke="#333" stroke-width="0.14" font-weight="normal" font-style="normal" >150</text>
<line x1="467.15" y1="378.80" x2="467.15" y2="381.40" stroke="#1a1a1a" stroke-width="1.0" />
<text x="467.15" y="390.36" font-size="6.2" text-anchor="middle" fill="#333" stroke="#333" stroke-width="0.14" font-weight="normal" font-style="normal" >200</text>
<line x1="501.75" y1="378.80" x2="501.75" y2="381.40" stroke="#1a1a1a" stroke-width="1.0" />
<text x="501.75" y="390.36" font-size="6.2" text-anchor="middle" fill="#333" stroke="#333" stroke-width="0.14" font-weight="normal" font-style="normal" >250</text>
<text x="414.65" y="401.90" font-size="8.4" text-anchor="middle" fill="#222" stroke="#222" stroke-width="0.14" font-weight="normal" font-style="italic" textLength="37" lengthAdjust="spacingAndGlyphs">Time (months)</text>
<text x="276.4" y="367.0" transform="rotate(-90 276.4 367.0)" font-size="10.2" font-style="italic" font-weight="bold" text-anchor="middle" fill="#222" textLength="15.6" lengthAdjust="spacingAndGlyphs" dominant-baseline="central">Strata</text>
<text x="342.60" y="415.46" font-size="6.2" text-anchor="start" fill="#333" stroke="#333" stroke-width="0.14" font-weight="normal" font-style="normal" >Strata</text>
<line x1="367.30" y1="413.10" x2="371.80" y2="413.10" stroke="#40225c" stroke-width="1.1" />
<line x1="369.55" y1="412.00" x2="369.55" y2="414.20" stroke="#40225c" stroke-width="0.6" />
<text x="375.00" y="415.46" font-size="6.2" text-anchor="start" fill="#333" stroke="#333" stroke-width="0.14" font-weight="normal" font-style="normal" >RISS = I</text>
<line x1="408.80" y1="413.10" x2="413.30" y2="413.10" stroke="#df9e26" stroke-width="1.1" />
<line x1="411.05" y1="412.00" x2="411.05" y2="414.20" stroke="#df9e26" stroke-width="0.6" />
<text x="416.80" y="415.46" font-size="6.2" text-anchor="start" fill="#333" stroke="#333" stroke-width="0.14" font-weight="normal" font-style="normal" >RISS = II</text>
<line x1="451.30" y1="413.10" x2="455.80" y2="413.10" stroke="#25524a" stroke-width="1.1" />
<line x1="453.55" y1="412.00" x2="453.55" y2="414.20" stroke="#25524a" stroke-width="0.6" />
<text x="458.00" y="415.46" font-size="6.2" text-anchor="start" fill="#333" stroke="#333" stroke-width="0.14" font-weight="normal" font-style="normal" >RISS = III</text>
<text x="7.00" y="441.50" font-size="11" font-weight="bold" fill="#111" stroke="#111" stroke-width="0.35">E</text>
<text x="152.50" y="439.42" font-size="8.2" text-anchor="middle" fill="#222" stroke="#222" stroke-width="0.14" font-weight="normal" font-style="normal" >PFS</text>
<text x="138.50" y="449.36" font-size="6.2" text-anchor="middle" fill="#333" stroke="#333" stroke-width="0.14" font-weight="normal" font-style="normal" >R2ISS</text>
<text x="164.30" y="449.36" font-size="6.2" text-anchor="middle" fill="#333" stroke="#333" stroke-width="0.14" font-weight="normal" font-style="normal" >HR</text>
<text x="201.00" y="449.36" font-size="6.2" text-anchor="middle" fill="#333" stroke="#333" stroke-width="0.14" font-weight="normal" font-style="normal" >95%CI</text>
<text x="235.00" y="449.36" font-size="6.2" text-anchor="middle" fill="#333" stroke="#333" stroke-width="0.14" font-weight="normal" font-style="italic" >P</text>
<text x="138.50" y="457.16" font-size="6.2" text-anchor="middle" fill="#333" stroke="#333" stroke-width="0.14" font-weight="normal" font-style="normal" >I</text>
<text x="150.80" y="457.16" font-size="6.2" text-anchor="start" fill="#333" stroke="#333" stroke-width="0.14" font-weight="normal" font-style="normal" >Reference</text>
<text x="138.50" y="464.96" font-size="6.2" text-anchor="middle" fill="#333" stroke="#333" stroke-width="0.14" font-weight="normal" font-style="normal" >II</text>
<text x="164.30" y="464.96" font-size="6.2" text-anchor="middle" fill="#333" stroke="#333" stroke-width="0.14" font-weight="normal" font-style="normal" >1.315</text>
<text x="201.00" y="464.96" font-size="6.2" text-anchor="middle" fill="#333" stroke="#333" stroke-width="0.14" font-weight="normal" font-style="normal" >[1.009, 1.714]</text>
<text x="235.00" y="464.96" font-size="6.2" text-anchor="middle" fill="#333" stroke="#333" stroke-width="0.14" font-weight="normal" font-style="normal" >.0429</text>
<text x="138.50" y="472.76" font-size="6.2" text-anchor="middle" fill="#333" stroke="#333" stroke-width="0.14" font-weight="normal" font-style="normal" >III</text>
<text x="164.30" y="472.76" font-size="6.2" text-anchor="middle" fill="#333" stroke="#333" stroke-width="0.14" font-weight="normal" font-style="normal" >1.932</text>
<text x="201.00" y="472.76" font-size="6.2" text-anchor="middle" fill="#333" stroke="#333" stroke-width="0.14" font-weight="normal" font-style="normal" >[1.511, 2.469]</text>
<text x="235.00" y="472.76" font-size="6.2" text-anchor="middle" fill="#333" stroke="#333" stroke-width="0.14" font-weight="normal" font-style="normal" >&lt; .0001</text>
<text x="138.50" y="480.56" font-size="6.2" text-anchor="middle" fill="#333" stroke="#333" stroke-width="0.14" font-weight="normal" font-style="normal" >IV</text>
<text x="164.30" y="480.56" font-size="6.2" text-anchor="middle" fill="#333" stroke="#333" stroke-width="0.14" font-weight="normal" font-style="normal" >2.823</text>
<text x="201.00" y="480.56" font-size="6.2" text-anchor="middle" fill="#333" stroke="#333" stroke-width="0.14" font-weight="normal" font-style="normal" >[2.152, 3.703]</text>
<text x="235.00" y="480.56" font-size="6.2" text-anchor="middle" fill="#333" stroke="#333" stroke-width="0.14" font-weight="normal" font-style="normal" >&lt; .0001</text>
<line x1="55.50" y1="461.30" x2="55.50" y2="560.90" stroke="#1a1a1a" stroke-width="1.3" />
<line x1="54.85" y1="560.30" x2="248.75" y2="560.30" stroke="#1a1a1a" stroke-width="1.3" />
<line x1="52.70" y1="556.30" x2="55.50" y2="556.30" stroke="#1a1a1a" stroke-width="1.0" />
<text x="49.90" y="558.69" font-size="6.3" text-anchor="end" fill="#333" stroke="#333" stroke-width="0.14" font-weight="normal" font-style="normal" >0.00</text>
<line x1="52.70" y1="533.62" x2="55.50" y2="533.62" stroke="#1a1a1a" stroke-width="1.0" />
<text x="49.90" y="536.02" font-size="6.3" text-anchor="end" fill="#333" stroke="#333" stroke-width="0.14" font-weight="normal" font-style="normal" >0.25</text>
<line x1="52.70" y1="510.95" x2="55.50" y2="510.95" stroke="#1a1a1a" stroke-width="1.0" />
<text x="49.90" y="513.34" font-size="6.3" text-anchor="end" fill="#333" stroke="#333" stroke-width="0.14" font-weight="normal" font-style="normal" >0.50</text>
<line x1="52.70" y1="488.27" x2="55.50" y2="488.27" stroke="#1a1a1a" stroke-width="1.0" />
<text x="49.90" y="490.67" font-size="6.3" text-anchor="end" fill="#333" stroke="#333" stroke-width="0.14" font-weight="normal" font-style="normal" >0.75</text>
<line x1="52.70" y1="465.60" x2="55.50" y2="465.60" stroke="#1a1a1a" stroke-width="1.0" />
<text x="49.90" y="467.99" font-size="6.3" text-anchor="end" fill="#333" stroke="#333" stroke-width="0.14" font-weight="normal" font-style="normal" >1.00</text>
<line x1="67.10" y1="560.30" x2="67.10" y2="562.90" stroke="#1a1a1a" stroke-width="1.0" />
<text x="67.10" y="572.86" font-size="6.2" text-anchor="middle" fill="#333" stroke="#333" stroke-width="0.14" font-weight="normal" font-style="normal" >0</text>
<line x1="110.50" y1="560.30" x2="110.50" y2="562.90" stroke="#1a1a1a" stroke-width="1.0" />
<text x="110.50" y="572.86" font-size="6.2" text-anchor="middle" fill="#333" stroke="#333" stroke-width="0.14" font-weight="normal" font-style="normal" >50</text>
<line x1="153.90" y1="560.30" x2="153.90" y2="562.90" stroke="#1a1a1a" stroke-width="1.0" />
<text x="153.90" y="572.86" font-size="6.2" text-anchor="middle" fill="#333" stroke="#333" stroke-width="0.14" font-weight="normal" font-style="normal" >100</text>
<line x1="197.30" y1="560.30" x2="197.30" y2="562.90" stroke="#1a1a1a" stroke-width="1.0" />
<text x="197.30" y="572.86" font-size="6.2" text-anchor="middle" fill="#333" stroke="#333" stroke-width="0.14" font-weight="normal" font-style="normal" >150</text>
<line x1="240.70" y1="560.30" x2="240.70" y2="562.90" stroke="#1a1a1a" stroke-width="1.0" />
<text x="240.70" y="572.86" font-size="6.2" text-anchor="middle" fill="#333" stroke="#333" stroke-width="0.14" font-weight="normal" font-style="normal" >200</text>
<text x="30.0" y="510.75" transform="rotate(-90 30.0 510.75)" font-size="8.6" font-style="italic" text-anchor="middle" fill="#222" textLength="48.5" lengthAdjust="spacingAndGlyphs" dominant-baseline="central">Survival probability</text>
<text x="152.62" y="584.45" font-size="8.4" text-anchor="middle" fill="#222" stroke="#222" stroke-width="0.14" font-weight="normal" font-style="italic" textLength="37" lengthAdjust="spacingAndGlyphs">Time (months)</text>
<line x1="67.00" y1="511.00" x2="180.50" y2="511.00" stroke="#4a4a4a" stroke-width="0.95" stroke-dasharray="1,1"/>
<line x1="104.50" y1="512.00" x2="104.50" y2="556.30" stroke="#4a4a4a" stroke-width="0.95" stroke-dasharray="1,1"/>
<line x1="122.50" y1="512.00" x2="122.50" y2="556.30" stroke="#4a4a4a" stroke-width="0.95" stroke-dasharray="1,1"/>
<line x1="138.50" y1="512.00" x2="138.50" y2="556.30" stroke="#4a4a4a" stroke-width="0.95" stroke-dasharray="1,1"/>
<line x1="180.50" y1="512.00" x2="180.50" y2="556.30" stroke="#4a4a4a" stroke-width="0.95" stroke-dasharray="1,1"/>
<polyline points="67.50,465.75 72.50,466.25 78.75,467.75 85.00,470.60 92.50,473.10 97.50,475.60 105.00,479.40 110.00,482.50 115.00,485.00 120.00,488.75 125.00,493.10 127.50,495.00 135.00,500.00 142.50,501.90 150.00,504.40 157.50,505.60 161.25,506.90 167.50,507.50 172.50,508.75 180.00,511.25 185.00,511.90 187.50,513.10 192.50,514.40 200.00,516.30 208.00,517.00 209.20,519.20 213.80,519.80 215.00,521.30 220.20,521.30 221.30,524.40 244.40,524.40 245.00,534.20 248.50,534.80" fill="none" stroke="#c81c74" stroke-width="1.35" stroke-linejoin="round" />
<polyline points="67.50,465.75 72.50,467.50 78.75,471.90 85.00,476.25 92.50,480.60 100.00,486.25 105.00,490.60 112.50,496.25 120.00,501.25 127.50,506.25 137.50,510.00 147.50,514.40 155.00,515.60 165.00,516.90 180.00,517.25 183.75,518.75 192.50,520.60 205.00,521.50 248.50,521.80" fill="none" stroke="#abb092" stroke-width="1.35" stroke-linejoin="round" />
<polyline points="67.50,465.75 72.50,467.50 76.25,475.00 80.00,481.25 85.00,485.60 90.00,490.60 95.00,495.00 100.00,498.75 107.50,502.50 115.00,506.25 122.50,510.60 130.00,516.90 137.50,520.60 145.00,524.40 150.00,526.25 165.00,527.25 170.00,528.10 175.00,529.40 185.00,531.25 197.50,532.00 217.30,532.50 219.00,534.20 248.50,534.80" fill="none" stroke="#3399cf" stroke-width="1.35" stroke-linejoin="round" />
<polyline points="67.50,465.75 72.50,466.90 73.75,471.25 76.25,475.00 78.75,480.00 81.25,486.25 85.00,492.50 88.75,496.90 92.50,498.10 96.25,502.50 100.00,506.25 103.75,510.00 105.00,511.25 110.00,516.25 120.00,520.60 130.00,526.25 136.25,530.60 142.50,532.50 152.50,534.40 160.00,536.90 165.00,537.50 168.75,539.40 190.00,539.40 193.75,542.40 230.00,542.40" fill="none" stroke="#4e3a24" stroke-width="1.35" stroke-linejoin="round" />
<text x="58.70" y="595.26" font-size="5.95" text-anchor="start" fill="#333" stroke="#333" stroke-width="0.14" font-weight="normal" font-style="normal" >Number at risk (number of events)</text>
<line x1="55.50" y1="598.90" x2="55.50" y2="629.90" stroke="#1a1a1a" stroke-width="1.3" />
<line x1="54.85" y1="629.30" x2="248.75" y2="629.30" stroke="#1a1a1a" stroke-width="1.3" />
<line x1="52.70" y1="602.70" x2="55.50" y2="602.70" stroke="#1a1a1a" stroke-width="1.0" />
<text x="50.50" y="605.11" font-size="6.35" text-anchor="end" fill="#d44d92" stroke="#d44d92" stroke-width="0.14" font-weight="normal" font-style="normal" >R2ISS = I</text>
<text x="67.10" y="605.06" font-size="6.2" text-anchor="middle" fill="#222" stroke="#222" stroke-width="0.14" font-weight="normal" font-style="normal" >144 (0)</text>
<text x="110.50" y="605.06" font-size="6.2" text-anchor="middle" fill="#222" stroke="#222" stroke-width="0.14" font-weight="normal" font-style="normal" >117 (27)</text>
<text x="153.90" y="605.06" font-size="6.2" text-anchor="middle" fill="#222" stroke="#222" stroke-width="0.14" font-weight="normal" font-style="normal" >61 (61)</text>
<text x="197.30" y="605.06" font-size="6.2" text-anchor="middle" fill="#222" stroke="#222" stroke-width="0.14" font-weight="normal" font-style="normal" >28 (69)</text>
<text x="240.70" y="605.06" font-size="6.2" text-anchor="middle" fill="#222" stroke="#222" stroke-width="0.14" font-weight="normal" font-style="normal" >6 (74)</text>
<line x1="52.70" y1="610.10" x2="55.50" y2="610.10" stroke="#1a1a1a" stroke-width="1.0" />
<text x="50.50" y="612.51" font-size="6.35" text-anchor="end" fill="#bdc1a9" stroke="#bdc1a9" stroke-width="0.14" font-weight="normal" font-style="normal" >R2ISS = II</text>
<text x="67.10" y="612.46" font-size="6.2" text-anchor="middle" fill="#222" stroke="#222" stroke-width="0.14" font-weight="normal" font-style="normal" >231 (0)</text>
<text x="110.50" y="612.46" font-size="6.2" text-anchor="middle" fill="#222" stroke="#222" stroke-width="0.14" font-weight="normal" font-style="normal" >156 (72)</text>
<text x="153.90" y="612.46" font-size="6.2" text-anchor="middle" fill="#222" stroke="#222" stroke-width="0.14" font-weight="normal" font-style="normal" >81 (122)</text>
<text x="197.30" y="612.46" font-size="6.2" text-anchor="middle" fill="#222" stroke="#222" stroke-width="0.14" font-weight="normal" font-style="normal" >34 (130)</text>
<text x="240.70" y="612.46" font-size="6.2" text-anchor="middle" fill="#222" stroke="#222" stroke-width="0.14" font-weight="normal" font-style="normal" >7 (131)</text>
<line x1="52.70" y1="617.40" x2="55.50" y2="617.40" stroke="#1a1a1a" stroke-width="1.0" />
<text x="50.50" y="619.81" font-size="6.35" text-anchor="end" fill="#5fafd9" stroke="#5fafd9" stroke-width="0.14" font-weight="normal" font-style="normal" >R2ISS = III</text>
<text x="67.10" y="619.76" font-size="6.2" text-anchor="middle" fill="#222" stroke="#222" stroke-width="0.14" font-weight="normal" font-style="normal" >338 (0)</text>
<text x="110.50" y="619.76" font-size="6.2" text-anchor="middle" fill="#222" stroke="#222" stroke-width="0.14" font-weight="normal" font-style="normal" >187 (146)</text>
<text x="153.90" y="619.76" font-size="6.2" text-anchor="middle" fill="#222" stroke="#222" stroke-width="0.14" font-weight="normal" font-style="normal" >83 (221)</text>
<text x="197.30" y="619.76" font-size="6.2" text-anchor="middle" fill="#222" stroke="#222" stroke-width="0.14" font-weight="normal" font-style="normal" >33 (232)</text>
<text x="240.70" y="619.76" font-size="6.2" text-anchor="middle" fill="#222" stroke="#222" stroke-width="0.14" font-weight="normal" font-style="normal" >8 (234)</text>
<line x1="52.70" y1="624.50" x2="55.50" y2="624.50" stroke="#1a1a1a" stroke-width="1.0" />
<text x="50.50" y="626.91" font-size="6.35" text-anchor="end" fill="#746554" stroke="#746554" stroke-width="0.14" font-weight="normal" font-style="normal" >R2ISS = IV</text>
<text x="67.10" y="626.86" font-size="6.2" text-anchor="middle" fill="#222" stroke="#222" stroke-width="0.14" font-weight="normal" font-style="normal" >147 (0)</text>
<text x="110.50" y="626.86" font-size="6.2" text-anchor="middle" fill="#222" stroke="#222" stroke-width="0.14" font-weight="normal" font-style="normal" >63 (83)</text>
<text x="153.90" y="626.86" font-size="6.2" text-anchor="middle" fill="#222" stroke="#222" stroke-width="0.14" font-weight="normal" font-style="normal" >28 (110)</text>
<text x="197.30" y="626.86" font-size="6.2" text-anchor="middle" fill="#222" stroke="#222" stroke-width="0.14" font-weight="normal" font-style="normal" >8 (118)</text>
<text x="240.70" y="626.86" font-size="6.2" text-anchor="middle" fill="#222" stroke="#222" stroke-width="0.14" font-weight="normal" font-style="normal" >0 (118)</text>
<line x1="67.10" y1="629.30" x2="67.10" y2="631.90" stroke="#1a1a1a" stroke-width="1.0" />
<text x="67.10" y="640.86" font-size="6.2" text-anchor="middle" fill="#333" stroke="#333" stroke-width="0.14" font-weight="normal" font-style="normal" >0</text>
<line x1="110.50" y1="629.30" x2="110.50" y2="631.90" stroke="#1a1a1a" stroke-width="1.0" />
<text x="110.50" y="640.86" font-size="6.2" text-anchor="middle" fill="#333" stroke="#333" stroke-width="0.14" font-weight="normal" font-style="normal" >50</text>
<line x1="153.90" y1="629.30" x2="153.90" y2="631.90" stroke="#1a1a1a" stroke-width="1.0" />
<text x="153.90" y="640.86" font-size="6.2" text-anchor="middle" fill="#333" stroke="#333" stroke-width="0.14" font-weight="normal" font-style="normal" >100</text>
<line x1="197.30" y1="629.30" x2="197.30" y2="631.90" stroke="#1a1a1a" stroke-width="1.0" />
<text x="197.30" y="640.86" font-size="6.2" text-anchor="middle" fill="#333" stroke="#333" stroke-width="0.14" font-weight="normal" font-style="normal" >150</text>
<line x1="240.70" y1="629.30" x2="240.70" y2="631.90" stroke="#1a1a1a" stroke-width="1.0" />
<text x="240.70" y="640.86" font-size="6.2" text-anchor="middle" fill="#333" stroke="#333" stroke-width="0.14" font-weight="normal" font-style="normal" >200</text>
<text x="152.62" y="652.70" font-size="8.4" text-anchor="middle" fill="#222" stroke="#222" stroke-width="0.14" font-weight="normal" font-style="italic" textLength="37" lengthAdjust="spacingAndGlyphs">Time (months)</text>
<text x="11.5" y="614.1" transform="rotate(-90 11.5 614.1)" font-size="10.2" font-style="italic" font-weight="bold" text-anchor="middle" fill="#222" textLength="15.6" lengthAdjust="spacingAndGlyphs" dominant-baseline="central">Strata</text>
<text x="53.75" y="666.11" font-size="6.2" text-anchor="start" fill="#333" stroke="#333" stroke-width="0.14" font-weight="normal" font-style="normal" >Strata</text>
<line x1="80.00" y1="663.75" x2="84.50" y2="663.75" stroke="#c81c74" stroke-width="1.1" />
<line x1="82.25" y1="662.65" x2="82.25" y2="664.85" stroke="#c81c74" stroke-width="0.6" />
<text x="86.25" y="666.11" font-size="6.2" text-anchor="start" fill="#333" stroke="#333" stroke-width="0.14" font-weight="normal" font-style="normal" >R2ISS = I</text>
<line x1="124.00" y1="663.75" x2="128.50" y2="663.75" stroke="#abb092" stroke-width="1.1" />
<line x1="126.25" y1="662.65" x2="126.25" y2="664.85" stroke="#abb092" stroke-width="0.6" />
<text x="131.00" y="666.11" font-size="6.2" text-anchor="start" fill="#333" stroke="#333" stroke-width="0.14" font-weight="normal" font-style="normal" >R2ISS = II</text>
<line x1="170.00" y1="663.75" x2="174.50" y2="663.75" stroke="#3399cf" stroke-width="1.1" />
<line x1="172.25" y1="662.65" x2="172.25" y2="664.85" stroke="#3399cf" stroke-width="0.6" />
<text x="176.25" y="666.11" font-size="6.2" text-anchor="start" fill="#333" stroke="#333" stroke-width="0.14" font-weight="normal" font-style="normal" >R2ISS = III</text>
<line x1="216.00" y1="663.75" x2="220.50" y2="663.75" stroke="#4e3a24" stroke-width="1.1" />
<line x1="218.25" y1="662.65" x2="218.25" y2="664.85" stroke="#4e3a24" stroke-width="0.6" />
<text x="223.25" y="666.11" font-size="6.2" text-anchor="start" fill="#333" stroke="#333" stroke-width="0.14" font-weight="normal" font-style="normal" >R2ISS = IV</text>
<text x="272.60" y="441.50" font-size="11" font-weight="bold" fill="#111" stroke="#111" stroke-width="0.35">F</text>
<text x="413.75" y="439.42" font-size="8.2" text-anchor="middle" fill="#222" stroke="#222" stroke-width="0.14" font-weight="normal" font-style="normal" >OS</text>
<text x="402.50" y="449.36" font-size="6.2" text-anchor="middle" fill="#333" stroke="#333" stroke-width="0.14" font-weight="normal" font-style="normal" >R2ISS</text>
<text x="428.90" y="449.36" font-size="6.2" text-anchor="middle" fill="#333" stroke="#333" stroke-width="0.14" font-weight="normal" font-style="normal" >HR</text>
<text x="466.25" y="449.36" font-size="6.2" text-anchor="middle" fill="#333" stroke="#333" stroke-width="0.14" font-weight="normal" font-style="normal" >95%CI</text>
<text x="502.50" y="449.36" font-size="6.2" text-anchor="middle" fill="#333" stroke="#333" stroke-width="0.14" font-weight="normal" font-style="italic" >P</text>
<text x="402.50" y="457.16" font-size="6.2" text-anchor="middle" fill="#333" stroke="#333" stroke-width="0.14" font-weight="normal" font-style="normal" >I</text>
<text x="415.40" y="457.16" font-size="6.2" text-anchor="start" fill="#333" stroke="#333" stroke-width="0.14" font-weight="normal" font-style="normal" >Reference</text>
<text x="402.50" y="464.96" font-size="6.2" text-anchor="middle" fill="#333" stroke="#333" stroke-width="0.14" font-weight="normal" font-style="normal" >II</text>
<text x="428.90" y="464.96" font-size="6.2" text-anchor="middle" fill="#333" stroke="#333" stroke-width="0.14" font-weight="normal" font-style="normal" >1.318</text>
<text x="466.25" y="464.96" font-size="6.2" text-anchor="middle" fill="#333" stroke="#333" stroke-width="0.14" font-weight="normal" font-style="normal" >[0.9403, 1.847]</text>
<text x="502.50" y="464.96" font-size="6.2" text-anchor="middle" fill="#333" stroke="#333" stroke-width="0.14" font-weight="normal" font-style="normal" >.1090</text>
<text x="402.50" y="472.76" font-size="6.2" text-anchor="middle" fill="#333" stroke="#333" stroke-width="0.14" font-weight="normal" font-style="normal" >III</text>
<text x="428.90" y="472.76" font-size="6.2" text-anchor="middle" fill="#333" stroke="#333" stroke-width="0.14" font-weight="normal" font-style="normal" >2.216</text>
<text x="466.25" y="472.76" font-size="6.2" text-anchor="middle" fill="#333" stroke="#333" stroke-width="0.14" font-weight="normal" font-style="normal" >[1.633, 3.008]</text>
<text x="502.50" y="472.76" font-size="6.2" text-anchor="middle" fill="#333" stroke="#333" stroke-width="0.14" font-weight="normal" font-style="normal" >&lt; .0001</text>
<text x="402.50" y="480.56" font-size="6.2" text-anchor="middle" fill="#333" stroke="#333" stroke-width="0.14" font-weight="normal" font-style="normal" >IV</text>
<text x="428.90" y="480.56" font-size="6.2" text-anchor="middle" fill="#333" stroke="#333" stroke-width="0.14" font-weight="normal" font-style="normal" >3.344</text>
<text x="466.25" y="480.56" font-size="6.2" text-anchor="middle" fill="#333" stroke="#333" stroke-width="0.14" font-weight="normal" font-style="normal" >[2.395, 4.671]</text>
<text x="502.50" y="480.56" font-size="6.2" text-anchor="middle" fill="#333" stroke="#333" stroke-width="0.14" font-weight="normal" font-style="normal" >&lt; .0001</text>
<line x1="317.50" y1="461.30" x2="317.50" y2="560.90" stroke="#1a1a1a" stroke-width="1.3" />
<line x1="316.85" y1="560.30" x2="510.75" y2="560.30" stroke="#1a1a1a" stroke-width="1.3" />
<line x1="314.70" y1="556.30" x2="317.50" y2="556.30" stroke="#1a1a1a" stroke-width="1.0" />
<text x="311.90" y="558.69" font-size="6.3" text-anchor="end" fill="#333" stroke="#333" stroke-width="0.14" font-weight="normal" font-style="normal" >0.00</text>
<line x1="314.70" y1="533.62" x2="317.50" y2="533.62" stroke="#1a1a1a" stroke-width="1.0" />
<text x="311.90" y="536.02" font-size="6.3" text-anchor="end" fill="#333" stroke="#333" stroke-width="0.14" font-weight="normal" font-style="normal" >0.25</text>
<line x1="314.70" y1="510.95" x2="317.50" y2="510.95" stroke="#1a1a1a" stroke-width="1.0" />
<text x="311.90" y="513.34" font-size="6.3" text-anchor="end" fill="#333" stroke="#333" stroke-width="0.14" font-weight="normal" font-style="normal" >0.50</text>
<line x1="314.70" y1="488.27" x2="317.50" y2="488.27" stroke="#1a1a1a" stroke-width="1.0" />
<text x="311.90" y="490.67" font-size="6.3" text-anchor="end" fill="#333" stroke="#333" stroke-width="0.14" font-weight="normal" font-style="normal" >0.75</text>
<line x1="314.70" y1="465.60" x2="317.50" y2="465.60" stroke="#1a1a1a" stroke-width="1.0" />
<text x="311.90" y="467.99" font-size="6.3" text-anchor="end" fill="#333" stroke="#333" stroke-width="0.14" font-weight="normal" font-style="normal" >1.00</text>
<line x1="328.75" y1="560.30" x2="328.75" y2="562.90" stroke="#1a1a1a" stroke-width="1.0" />
<text x="328.75" y="572.86" font-size="6.2" text-anchor="middle" fill="#333" stroke="#333" stroke-width="0.14" font-weight="normal" font-style="normal" >0</text>
<line x1="363.35" y1="560.30" x2="363.35" y2="562.90" stroke="#1a1a1a" stroke-width="1.0" />
<text x="363.35" y="572.86" font-size="6.2" text-anchor="middle" fill="#333" stroke="#333" stroke-width="0.14" font-weight="normal" font-style="normal" >50</text>
<line x1="397.95" y1="560.30" x2="397.95" y2="562.90" stroke="#1a1a1a" stroke-width="1.0" />
<text x="397.95" y="572.86" font-size="6.2" text-anchor="middle" fill="#333" stroke="#333" stroke-width="0.14" font-weight="normal" font-style="normal" >100</text>
<line x1="432.55" y1="560.30" x2="432.55" y2="562.90" stroke="#1a1a1a" stroke-width="1.0" />
<text x="432.55" y="572.86" font-size="6.2" text-anchor="middle" fill="#333" stroke="#333" stroke-width="0.14" font-weight="normal" font-style="normal" >150</text>
<line x1="467.15" y1="560.30" x2="467.15" y2="562.90" stroke="#1a1a1a" stroke-width="1.0" />
<text x="467.15" y="572.86" font-size="6.2" text-anchor="middle" fill="#333" stroke="#333" stroke-width="0.14" font-weight="normal" font-style="normal" >200</text>
<line x1="501.75" y1="560.30" x2="501.75" y2="562.90" stroke="#1a1a1a" stroke-width="1.0" />
<text x="501.75" y="572.86" font-size="6.2" text-anchor="middle" fill="#333" stroke="#333" stroke-width="0.14" font-weight="normal" font-style="normal" >250</text>
<text x="290.5" y="510.75" transform="rotate(-90 290.5 510.75)" font-size="8.6" font-style="italic" text-anchor="middle" fill="#222" textLength="48.5" lengthAdjust="spacingAndGlyphs" dominant-baseline="central">Survival probability</text>
<text x="414.62" y="584.45" font-size="8.4" text-anchor="middle" fill="#222" stroke="#222" stroke-width="0.14" font-weight="normal" font-style="italic" textLength="37" lengthAdjust="spacingAndGlyphs">Time (months)</text>
<line x1="328.00" y1="511.00" x2="452.00" y2="511.00" stroke="#4a4a4a" stroke-width="0.95" stroke-dasharray="1,1"/>
<line x1="376.50" y1="512.00" x2="376.50" y2="556.30" stroke="#4a4a4a" stroke-width="0.95" stroke-dasharray="1,1"/>
<line x1="400.50" y1="512.00" x2="400.50" y2="556.30" stroke="#4a4a4a" stroke-width="0.95" stroke-dasharray="1,1"/>
<line x1="434.50" y1="512.00" x2="434.50" y2="556.30" stroke="#4a4a4a" stroke-width="0.95" stroke-dasharray="1,1"/>
<line x1="452.50" y1="512.00" x2="452.50" y2="556.30" stroke="#4a4a4a" stroke-width="0.95" stroke-dasharray="1,1"/>
<polyline points="330.00,466.00 337.50,466.25 345.00,468.10 353.75,468.75 361.25,472.50 367.50,473.75 375.00,474.40 377.50,478.10 382.50,480.00 387.50,482.50 390.00,482.50 405.00,488.75 420.00,495.00 435.00,500.00 440.00,502.50 443.00,504.40 445.60,505.00 446.90,506.90 448.10,508.50 451.90,508.75 452.10,510.80 465.60,510.80 465.90,520.60 470.00,520.60 470.40,528.90 473.75,529.20 474.00,542.50 477.50,542.50" fill="none" stroke="#c81c74" stroke-width="1.35" stroke-linejoin="round" />
<polyline points="330.00,466.00 335.00,468.10 345.00,472.50 355.00,476.25 365.00,480.60 375.00,486.25 382.50,490.00 390.00,493.75 405.00,500.00 420.00,502.50 430.00,506.25 433.75,510.00 435.00,511.25 496.25,511.25" fill="none" stroke="#abb092" stroke-width="1.35" stroke-linejoin="round" />
<polyline points="330.00,466.00 335.00,471.25 340.00,476.90 347.50,481.90 357.50,487.50 365.00,493.10 375.00,497.50 382.50,501.25 387.50,505.00 392.50,508.10 400.00,511.25 410.00,516.25 415.00,516.90 422.50,520.00 430.00,521.25 433.75,524.40 441.25,526.90 450.00,528.75 460.00,529.50 462.50,531.25 485.00,531.25" fill="none" stroke="#3399cf" stroke-width="1.35" stroke-linejoin="round" />
<polyline points="330.00,466.00 332.50,467.50 340.00,476.25 347.50,485.00 355.00,496.25 360.00,498.10 363.75,503.10 368.75,504.40 375.00,510.00 380.00,515.00 385.00,518.75 387.50,520.60 392.50,522.50 400.00,525.00 407.50,529.40 413.75,530.60 415.00,531.90 435.00,531.90 435.60,533.30 445.60,533.50 447.50,536.90 452.50,537.50 453.75,543.10 456.25,543.75 457.50,549.40 458.75,549.40" fill="none" stroke="#4e3a24" stroke-width="1.35" stroke-linejoin="round" />
<text x="320.70" y="594.86" font-size="5.95" text-anchor="start" fill="#333" stroke="#333" stroke-width="0.14" font-weight="normal" font-style="normal" >Number at risk (number of events)</text>
<line x1="317.50" y1="598.90" x2="317.50" y2="629.90" stroke="#1a1a1a" stroke-width="1.3" />
<line x1="316.85" y1="629.30" x2="510.75" y2="629.30" stroke="#1a1a1a" stroke-width="1.3" />
<line x1="314.70" y1="602.70" x2="317.50" y2="602.70" stroke="#1a1a1a" stroke-width="1.0" />
<text x="312.50" y="605.11" font-size="6.35" text-anchor="end" fill="#d44d92" stroke="#d44d92" stroke-width="0.14" font-weight="normal" font-style="normal" >R2ISS = I</text>
<text x="328.75" y="605.06" font-size="6.2" text-anchor="middle" fill="#222" stroke="#222" stroke-width="0.14" font-weight="normal" font-style="normal" >144 (0)</text>
<text x="363.35" y="605.06" font-size="6.2" text-anchor="middle" fill="#222" stroke="#222" stroke-width="0.14" font-weight="normal" font-style="normal" >132 (12)</text>
<text x="397.95" y="605.06" font-size="6.2" text-anchor="middle" fill="#222" stroke="#222" stroke-width="0.14" font-weight="normal" font-style="normal" >88 (28)</text>
<text x="432.55" y="605.06" font-size="6.2" text-anchor="middle" fill="#222" stroke="#222" stroke-width="0.14" font-weight="normal" font-style="normal" >41 (40)</text>
<text x="467.15" y="605.06" font-size="6.2" text-anchor="middle" fill="#222" stroke="#222" stroke-width="0.14" font-weight="normal" font-style="normal" >7 (50)</text>
<text x="501.75" y="605.06" font-size="6.2" text-anchor="middle" fill="#222" stroke="#222" stroke-width="0.14" font-weight="normal" font-style="normal" >0 (52)</text>
<line x1="314.70" y1="610.10" x2="317.50" y2="610.10" stroke="#1a1a1a" stroke-width="1.0" />
<text x="312.50" y="612.51" font-size="6.35" text-anchor="end" fill="#bdc1a9" stroke="#bdc1a9" stroke-width="0.14" font-weight="normal" font-style="normal" >R2ISS = II</text>
<text x="328.75" y="612.46" font-size="6.2" text-anchor="middle" fill="#222" stroke="#222" stroke-width="0.14" font-weight="normal" font-style="normal" >231 (0)</text>
<text x="363.35" y="612.46" font-size="6.2" text-anchor="middle" fill="#222" stroke="#222" stroke-width="0.14" font-weight="normal" font-style="normal" >191 (36)</text>
<text x="397.95" y="612.46" font-size="6.2" text-anchor="middle" fill="#222" stroke="#222" stroke-width="0.14" font-weight="normal" font-style="normal" >118 (75)</text>
<text x="432.55" y="612.46" font-size="6.2" text-anchor="middle" fill="#222" stroke="#222" stroke-width="0.14" font-weight="normal" font-style="normal" >48 (94)</text>
<text x="467.15" y="612.46" font-size="6.2" text-anchor="middle" fill="#222" stroke="#222" stroke-width="0.14" font-weight="normal" font-style="normal" >11 (96)</text>
<text x="501.75" y="612.46" font-size="6.2" text-anchor="middle" fill="#222" stroke="#222" stroke-width="0.14" font-weight="normal" font-style="normal" >0 (96)</text>
<line x1="314.70" y1="617.40" x2="317.50" y2="617.40" stroke="#1a1a1a" stroke-width="1.0" />
<text x="312.50" y="619.81" font-size="6.35" text-anchor="end" fill="#5fafd9" stroke="#5fafd9" stroke-width="0.14" font-weight="normal" font-style="normal" >R2ISS = III</text>
<text x="328.75" y="619.76" font-size="6.2" text-anchor="middle" fill="#222" stroke="#222" stroke-width="0.14" font-weight="normal" font-style="normal" >338 (0)</text>
<text x="363.35" y="619.76" font-size="6.2" text-anchor="middle" fill="#222" stroke="#222" stroke-width="0.14" font-weight="normal" font-style="normal" >231 (102)</text>
<text x="397.95" y="619.76" font-size="6.2" text-anchor="middle" fill="#222" stroke="#222" stroke-width="0.14" font-weight="normal" font-style="normal" >140 (159)</text>
<text x="432.55" y="619.76" font-size="6.2" text-anchor="middle" fill="#222" stroke="#222" stroke-width="0.14" font-weight="normal" font-style="normal" >51 (193)</text>
<text x="467.15" y="619.76" font-size="6.2" text-anchor="middle" fill="#222" stroke="#222" stroke-width="0.14" font-weight="normal" font-style="normal" >8 (200)</text>
<text x="501.75" y="619.76" font-size="6.2" text-anchor="middle" fill="#222" stroke="#222" stroke-width="0.14" font-weight="normal" font-style="normal" >0 (200)</text>
<line x1="314.70" y1="624.60" x2="317.50" y2="624.60" stroke="#1a1a1a" stroke-width="1.0" />
<text x="312.50" y="627.01" font-size="6.35" text-anchor="end" fill="#746554" stroke="#746554" stroke-width="0.14" font-weight="normal" font-style="normal" >R2ISS = IV</text>
<text x="328.75" y="626.96" font-size="6.2" text-anchor="middle" fill="#222" stroke="#222" stroke-width="0.14" font-weight="normal" font-style="normal" >147 (0)</text>
<text x="363.35" y="626.96" font-size="6.2" text-anchor="middle" fill="#222" stroke="#222" stroke-width="0.14" font-weight="normal" font-style="normal" >84 (60)</text>
<text x="397.95" y="626.96" font-size="6.2" text-anchor="middle" fill="#222" stroke="#222" stroke-width="0.14" font-weight="normal" font-style="normal" >42 (93)</text>
<text x="432.55" y="626.96" font-size="6.2" text-anchor="middle" fill="#222" stroke="#222" stroke-width="0.14" font-weight="normal" font-style="normal" >15 (101)</text>
<text x="467.15" y="626.96" font-size="6.2" text-anchor="middle" fill="#222" stroke="#222" stroke-width="0.14" font-weight="normal" font-style="normal" >0 (105)</text>
<text x="501.75" y="626.96" font-size="6.2" text-anchor="middle" fill="#222" stroke="#222" stroke-width="0.14" font-weight="normal" font-style="normal" >0 (105)</text>
<line x1="328.75" y1="629.30" x2="328.75" y2="631.90" stroke="#1a1a1a" stroke-width="1.0" />
<text x="328.75" y="640.96" font-size="6.2" text-anchor="middle" fill="#333" stroke="#333" stroke-width="0.14" font-weight="normal" font-style="normal" >0</text>
<line x1="363.35" y1="629.30" x2="363.35" y2="631.90" stroke="#1a1a1a" stroke-width="1.0" />
<text x="363.35" y="640.96" font-size="6.2" text-anchor="middle" fill="#333" stroke="#333" stroke-width="0.14" font-weight="normal" font-style="normal" >50</text>
<line x1="397.95" y1="629.30" x2="397.95" y2="631.90" stroke="#1a1a1a" stroke-width="1.0" />
<text x="397.95" y="640.96" font-size="6.2" text-anchor="middle" fill="#333" stroke="#333" stroke-width="0.14" font-weight="normal" font-style="normal" >100</text>
<line x1="432.55" y1="629.30" x2="432.55" y2="631.90" stroke="#1a1a1a" stroke-width="1.0" />
<text x="432.55" y="640.96" font-size="6.2" text-anchor="middle" fill="#333" stroke="#333" stroke-width="0.14" font-weight="normal" font-style="normal" >150</text>
<line x1="467.15" y1="629.30" x2="467.15" y2="631.90" stroke="#1a1a1a" stroke-width="1.0" />
<text x="467.15" y="640.96" font-size="6.2" text-anchor="middle" fill="#333" stroke="#333" stroke-width="0.14" font-weight="normal" font-style="normal" >200</text>
<line x1="501.75" y1="629.30" x2="501.75" y2="631.90" stroke="#1a1a1a" stroke-width="1.0" />
<text x="501.75" y="640.96" font-size="6.2" text-anchor="middle" fill="#333" stroke="#333" stroke-width="0.14" font-weight="normal" font-style="normal" >250</text>
<text x="414.62" y="652.70" font-size="8.4" text-anchor="middle" fill="#222" stroke="#222" stroke-width="0.14" font-weight="normal" font-style="italic" textLength="37" lengthAdjust="spacingAndGlyphs">Time (months)</text>
<text x="272.5" y="614.1" transform="rotate(-90 272.5 614.1)" font-size="10.2" font-style="italic" font-weight="bold" text-anchor="middle" fill="#222" textLength="15.6" lengthAdjust="spacingAndGlyphs" dominant-baseline="central">Strata</text>
<text x="313.75" y="665.76" font-size="6.2" text-anchor="start" fill="#333" stroke="#333" stroke-width="0.14" font-weight="normal" font-style="normal" >Strata</text>
<line x1="339.50" y1="663.40" x2="344.00" y2="663.40" stroke="#c81c74" stroke-width="1.1" />
<line x1="341.75" y1="662.30" x2="341.75" y2="664.50" stroke="#c81c74" stroke-width="0.6" />
<text x="346.25" y="665.76" font-size="6.2" text-anchor="start" fill="#333" stroke="#333" stroke-width="0.14" font-weight="normal" font-style="normal" >R2ISS = I</text>
<line x1="385.00" y1="663.40" x2="389.50" y2="663.40" stroke="#abb092" stroke-width="1.1" />
<line x1="387.25" y1="662.30" x2="387.25" y2="664.50" stroke="#abb092" stroke-width="0.6" />
<text x="391.50" y="665.76" font-size="6.2" text-anchor="start" fill="#333" stroke="#333" stroke-width="0.14" font-weight="normal" font-style="normal" >R2ISS = II</text>
<line x1="430.00" y1="663.40" x2="434.50" y2="663.40" stroke="#3399cf" stroke-width="1.1" />
<line x1="432.25" y1="662.30" x2="432.25" y2="664.50" stroke="#3399cf" stroke-width="0.6" />
<text x="436.50" y="665.76" font-size="6.2" text-anchor="start" fill="#333" stroke="#333" stroke-width="0.14" font-weight="normal" font-style="normal" >R2ISS = III</text>
<line x1="476.00" y1="663.40" x2="480.50" y2="663.40" stroke="#4e3a24" stroke-width="1.1" />
<line x1="478.25" y1="662.30" x2="478.25" y2="664.50" stroke="#4e3a24" stroke-width="0.6" />
<text x="482.50" y="665.76" font-size="6.2" text-anchor="start" fill="#333" stroke="#333" stroke-width="0.14" font-weight="normal" font-style="normal" >R2ISS = IV</text>
<line x1="0" y1="0.55" x2="520" y2="0.55" stroke="#5a5a5a" stroke-width="1.1"/>
<line x1="0" y1="673.45" x2="520" y2="673.45" stroke="#444" stroke-width="1.1"/>
<line x1="0.5" y1="0" x2="0.5" y2="674" stroke="#666" stroke-width="1.05"/>
<line x1="519.5" y1="0" x2="519.5" y2="674" stroke="#666" stroke-width="1.05"/>
</svg>
</body></html>
